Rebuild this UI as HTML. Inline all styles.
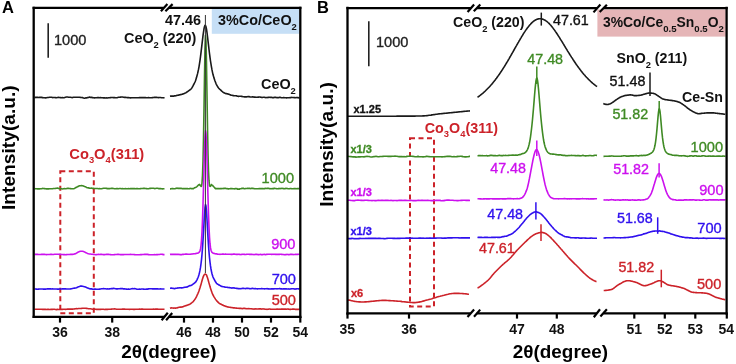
<!DOCTYPE html>
<html><head><meta charset="utf-8"><style>
html,body{margin:0;padding:0;background:#fff;}
body{width:736px;height:364px;overflow:hidden;font-family:"Liberation Sans",sans-serif;}
svg{display:block;will-change:transform;}
</style></head><body>
<svg width="736" height="364" viewBox="0 0 736 364" font-family="Liberation Sans, sans-serif">
<rect width="736" height="364" fill="#fff"/>
<!-- legend boxes -->
<rect x="211.8" y="9" width="87.6" height="24.8" fill="#c6dff6"/>
<rect x="597.4" y="9.5" width="128.3" height="27.1" fill="#e5b5b7"/>
<!-- dashed boxes -->
<rect x="60.3" y="171.3" width="33.5" height="142" fill="none" stroke="#cc2229" stroke-width="2" stroke-dasharray="5,3.5"/>
<rect x="410" y="138.2" width="24" height="168.2" fill="none" stroke="#cc2229" stroke-width="2" stroke-dasharray="5,3.5"/>
<path d="M34.5,97.6 L35.5,97.4 L36.5,97.4 L37.5,97.3 L38.5,97.5 L39.5,97.4 L40.5,97.3 L41.5,97.4 L42.5,97.6 L43.5,97.8 L44.5,97.8 L45.5,97.9 L46.5,97.8 L47.5,97.5 L48.5,97.5 L49.5,97.3 L50.5,97.3 L51.5,97.3 L52.5,97.6 L53.5,97.5 L54.5,97.5 L55.5,97.6 L56.5,97.7 L57.5,97.5 L58.5,97.4 L59.5,97.5 L60.5,97.6 L61.5,97.8 L62.5,97.6 L63.5,97.7 L64.5,97.6 L65.5,97.3 L66.5,97.0 L67.5,97.0 L68.5,97.2 L69.5,97.3 L70.5,97.3 L71.5,97.5 L72.5,97.6 L73.5,97.3 L74.5,97.2 L75.5,97.3 L76.5,97.2 L77.5,97.2 L78.5,97.2 L79.5,97.2 L80.5,97.4 L81.5,97.5 L82.5,97.6 L83.5,98.0 L84.5,98.2 L85.5,97.9 L86.5,97.9 L87.5,97.6 L88.5,97.5 L89.5,97.1 L90.5,97.4 L91.5,97.4 L92.5,97.6 L93.5,97.8 L94.5,97.9 L95.5,97.8 L96.5,97.7 L97.5,97.6 L98.5,97.5 L99.5,97.8 L100.5,97.6 L101.5,97.7 L102.5,97.8 L103.5,97.9 L104.5,97.8 L105.5,98.0 L106.5,97.9 L107.5,98.0 L108.5,97.7 L109.5,97.8 L110.5,97.6 L111.5,97.5 L112.5,97.5 L113.5,97.6 L114.5,97.5 L115.5,97.7 L116.5,97.7 L117.5,97.6 L118.5,97.3 L119.5,97.2 L120.5,97.1 L121.5,97.0 L122.5,97.0 L123.5,97.3 L124.5,97.4 L125.5,97.4 L126.5,97.5 L127.5,97.6 L128.5,97.5 L129.5,97.8 L130.5,97.9 L131.5,97.7 L132.5,97.7 L133.5,97.8 L134.5,97.7 L135.5,97.7 L136.5,97.7 L137.5,97.7 L138.5,97.7 L139.5,97.6 L140.5,97.5 L141.5,97.6 L142.5,97.6 L143.5,97.6 L144.5,97.5 L145.5,97.6 L146.5,97.7 L147.5,97.8 L148.5,97.6 L149.5,97.8 L150.5,97.7 L151.5,97.7 L152.5,97.6 L153.5,97.5 L154.5,97.3 L155.5,97.4 L156.5,97.4 L157.5,97.5 L158.5,97.6 L159.5,97.5 L160.5,97.5 L161.5,97.7 L162.5,97.7 L163.5,97.7 L164.5,97.9" fill="none" stroke="#1a1a1a" stroke-width="1.6" stroke-linejoin="round" />
<path d="M170.0,96.2 L170.5,96.1 L171.0,96.1 L171.5,96.0 L172.0,96.1 L172.5,96.1 L173.0,96.1 L173.5,96.1 L174.0,96.0 L174.5,95.9 L175.0,95.9 L175.5,95.7 L176.0,95.7 L176.5,95.5 L177.0,95.4 L177.5,95.3 L178.0,95.3 L178.5,95.1 L179.0,95.0 L179.5,94.9 L180.0,94.8 L180.5,94.6 L181.0,94.6 L181.5,94.4 L182.0,94.2 L182.5,94.1 L183.0,94.0 L183.5,93.7 L184.0,93.6 L184.5,93.4 L185.0,93.1 L185.5,92.9 L186.0,92.7 L186.5,92.3 L187.0,92.1 L187.5,91.7 L188.0,91.3 L188.5,90.9 L189.0,90.5 L189.5,90.2 L190.0,89.8 L190.5,89.5 L191.0,89.0 L191.5,88.4 L192.0,87.7 L192.5,86.8 L193.0,85.9 L193.5,84.9 L194.0,84.0 L194.5,83.0 L195.0,82.0 L195.5,80.7 L196.0,79.2 L196.5,77.6 L197.0,75.8 L197.5,73.9 L198.0,71.7 L198.5,69.4 L199.0,66.8 L199.5,63.7 L200.0,60.3 L200.5,56.7 L201.0,52.7 L201.5,48.4 L202.0,44.1 L202.5,39.8 L203.0,35.7 L203.5,32.0 L204.0,28.8 L204.5,26.6 L205.0,25.4 L205.5,25.5 L206.0,26.8 L206.5,29.2 L207.0,32.6 L207.5,36.5 L208.0,40.8 L208.5,45.1 L209.0,49.5 L209.5,53.5 L210.0,57.4 L210.5,61.0 L211.0,64.2 L211.5,67.1 L212.0,69.9 L212.5,72.3 L213.0,74.6 L213.5,76.3 L214.0,78.1 L214.5,79.6 L215.0,81.0 L215.5,82.2 L216.0,83.6 L216.5,84.6 L217.0,85.5 L217.5,86.5 L218.0,87.2 L218.5,87.9 L219.0,88.5 L219.5,89.1 L220.0,89.4 L220.5,89.8 L221.0,90.4 L221.5,90.9 L222.0,91.3 L222.5,91.8 L223.0,92.3 L223.5,92.5 L224.0,92.8 L224.5,93.1 L225.0,93.3 L225.5,93.5 L226.0,93.6 L226.5,93.6 L227.0,93.7 L227.5,93.9 L228.0,93.9 L228.5,94.2 L229.0,94.3 L229.5,94.6 L230.0,94.8 L230.5,94.9 L231.0,95.2 L231.5,95.3 L232.0,95.3 L232.5,95.4 L233.0,95.6 L233.5,95.5 L234.0,95.7 L234.5,95.7 L235.0,95.7 L235.5,95.7 L236.0,95.8 L236.5,95.9 L237.0,96.0 L237.5,96.2 L238.0,96.2 L238.5,96.4 L239.0,96.2 L239.5,96.2 L240.0,96.2 L240.5,96.3 L241.0,96.2 L241.5,96.4 L242.0,96.4 L242.5,96.6 L243.0,96.8 L243.5,96.8 L244.0,96.8 L244.5,96.9 L245.0,96.9 L245.5,96.9 L246.0,96.9 L246.5,96.9 L247.0,96.8 L247.5,96.7 L248.0,96.5 L248.5,96.6 L249.0,96.6 L249.5,96.8 L250.0,97.0 L250.5,97.0 L251.0,97.0 L251.5,97.0 L252.0,97.0 L252.5,96.9 L253.0,96.9 L253.5,97.0 L254.0,97.1 L254.5,97.0 L255.0,97.1 L255.5,97.3 L256.0,97.3 L256.5,97.3 L257.0,97.3 L257.5,97.2 L258.0,97.1 L258.5,97.1 L259.0,97.0 L259.5,97.0 L260.0,97.0 L260.5,97.3 L261.0,97.3 L261.5,97.4 L262.0,97.5 L262.5,97.5 L263.0,97.3 L263.5,97.3 L264.0,97.3 L264.5,97.2 L265.0,97.4 L265.5,97.6 L266.0,97.5 L266.5,97.5 L267.0,97.6 L267.5,97.5 L268.0,97.4 L268.5,97.4 L269.0,97.4 L269.5,97.3 L270.0,97.3 L270.5,97.4 L271.0,97.3 L271.5,97.4 L272.0,97.5 L272.5,97.6 L273.0,97.5 L273.5,97.7 L274.0,97.5 L274.5,97.4 L275.0,97.3 L275.5,97.4 L276.0,97.4 L276.5,97.6 L277.0,97.6 L277.5,97.6 L278.0,97.7 L278.5,97.6 L279.0,97.5 L279.5,97.4 L280.0,97.4 L280.5,97.4 L281.0,97.6 L281.5,97.7 L282.0,97.7 L282.5,97.7 L283.0,97.7 L283.5,97.6 L284.0,97.6 L284.5,97.7 L285.0,97.7 L285.5,97.8 L286.0,97.8 L286.5,97.9 L287.0,97.7 L287.5,97.8 L288.0,97.7 L288.5,97.7 L289.0,97.7 L289.5,97.7 L290.0,97.6 L290.5,97.6 L291.0,97.6 L291.5,97.4 L292.0,97.5 L292.5,97.5 L293.0,97.5 L293.5,97.5 L294.0,97.6 L294.5,97.6 L295.0,97.6 L295.5,97.7 L296.0,97.7 L296.5,97.5 L297.0,97.5 L297.5,97.6 L298.0,97.6 L298.5,97.8 L299.0,98.0 L299.5,98.0" fill="none" stroke="#1a1a1a" stroke-width="1.6" stroke-linejoin="round" />
<path d="M34.5,188.6 L35.5,188.7 L36.5,188.8 L37.5,188.9 L38.5,188.8 L39.5,188.9 L40.5,188.8 L41.5,188.7 L42.5,188.4 L43.5,188.5 L44.5,188.6 L45.5,188.8 L46.5,188.9 L47.5,188.9 L48.5,188.9 L49.5,188.7 L50.5,188.7 L51.5,188.7 L52.5,188.7 L53.5,188.5 L54.5,188.5 L55.5,188.4 L56.5,188.2 L57.5,188.1 L58.5,188.4 L59.5,188.6 L60.5,188.6 L61.5,188.8 L62.5,189.0 L63.5,188.8 L64.5,188.6 L65.5,188.7 L66.5,188.6 L67.5,188.3 L68.5,188.4 L69.5,188.5 L70.5,188.6 L71.5,188.7 L72.5,188.7 L73.5,188.7 L74.5,188.4 L75.5,187.8 L76.5,187.2 L77.5,186.8 L78.5,186.2 L79.5,185.7 L80.5,185.7 L81.5,185.6 L82.5,185.7 L83.5,186.0 L84.5,186.5 L85.5,186.8 L86.5,187.4 L87.5,187.8 L88.5,187.9 L89.5,188.1 L90.5,188.2 L91.5,188.1 L92.5,188.4 L93.5,188.4 L94.5,188.5 L95.5,188.5 L96.5,188.5 L97.5,188.5 L98.5,188.7 L99.5,188.6 L100.5,188.7 L101.5,188.7 L102.5,188.5 L103.5,188.3 L104.5,188.3 L105.5,188.3 L106.5,188.4 L107.5,188.6 L108.5,188.6 L109.5,188.6 L110.5,188.5 L111.5,188.4 L112.5,188.4 L113.5,188.5 L114.5,188.7 L115.5,188.7 L116.5,188.6 L117.5,188.6 L118.5,188.7 L119.5,188.5 L120.5,188.5 L121.5,188.8 L122.5,188.6 L123.5,188.7 L124.5,188.8 L125.5,188.6 L126.5,188.7 L127.5,188.8 L128.5,188.6 L129.5,188.7 L130.5,188.6 L131.5,188.6 L132.5,188.5 L133.5,188.6 L134.5,188.5 L135.5,188.7 L136.5,188.6 L137.5,188.6 L138.5,188.7 L139.5,188.7 L140.5,188.6 L141.5,188.5 L142.5,188.5 L143.5,188.3 L144.5,188.4 L145.5,188.5 L146.5,188.6 L147.5,188.8 L148.5,188.7 L149.5,188.4 L150.5,188.4 L151.5,188.3 L152.5,188.3 L153.5,188.3 L154.5,188.6 L155.5,188.5 L156.5,188.3 L157.5,188.3 L158.5,188.6 L159.5,188.6 L160.5,188.6 L161.5,188.8 L162.5,188.9 L163.5,188.8 L164.5,188.7" fill="none" stroke="#3f8a24" stroke-width="1.6" stroke-linejoin="round" />
<path d="M170.0,188.9 L170.5,188.9 L171.0,188.8 L171.5,188.8 L172.0,188.6 L172.5,188.5 L173.0,188.6 L173.5,188.7 L174.0,188.8 L174.5,188.8 L175.0,188.7 L175.5,188.5 L176.0,188.4 L176.5,188.2 L177.0,188.1 L177.5,188.2 L178.0,188.4 L178.5,188.4 L179.0,188.4 L179.5,188.4 L180.0,188.3 L180.5,188.4 L181.0,188.3 L181.5,188.4 L182.0,188.6 L182.5,188.7 L183.0,188.5 L183.5,188.7 L184.0,188.6 L184.5,188.6 L185.0,188.7 L185.5,188.6 L186.0,188.5 L186.5,188.6 L187.0,188.7 L187.5,188.6 L188.0,188.8 L188.5,188.8 L189.0,188.7 L189.5,188.6 L190.0,188.6 L190.5,188.4 L191.0,188.5 L191.5,188.6 L192.0,188.7 L192.5,188.5 L193.0,188.7 L193.5,188.6 L194.0,188.2 L194.5,187.7 L195.0,187.6 L195.5,187.4 L196.0,187.2 L196.5,186.9 L197.0,186.6 L197.5,186.0 L198.0,185.4 L198.5,185.0 L199.0,184.7 L199.5,184.4 L200.0,185.0 L200.5,185.7 L201.0,186.4 L201.5,186.2 L202.0,183.1 L202.5,175.5 L203.0,161.3 L203.5,138.7 L204.0,108.7 L204.5,75.9 L205.0,48.6 L205.5,35.6 L206.0,41.3 L206.5,63.8 L207.0,95.5 L207.5,127.4 L208.0,153.4 L208.5,170.8 L209.0,180.7 L209.5,185.7 L210.0,186.4 L210.5,186.3 L211.0,185.4 L211.5,184.5 L212.0,185.0 L212.5,185.4 L213.0,185.9 L213.5,186.5 L214.0,187.0 L214.5,187.6 L215.0,188.1 L215.5,188.7 L216.0,188.6 L216.5,188.6 L217.0,188.6 L217.5,188.6 L218.0,188.5 L218.5,188.6 L219.0,188.6 L219.5,188.7 L220.0,188.6 L220.5,188.6 L221.0,188.5 L221.5,188.6 L222.0,188.5 L222.5,188.5 L223.0,188.6 L223.5,188.5 L224.0,188.2 L224.5,188.3 L225.0,188.5 L225.5,188.4 L226.0,188.4 L226.5,188.6 L227.0,188.7 L227.5,188.6 L228.0,188.9 L228.5,189.0 L229.0,188.8 L229.5,188.8 L230.0,188.8 L230.5,188.6 L231.0,188.5 L231.5,188.6 L232.0,188.5 L232.5,188.7 L233.0,188.7 L233.5,188.8 L234.0,188.7 L234.5,188.9 L235.0,188.6 L235.5,188.6 L236.0,188.6 L236.5,188.7 L237.0,188.6 L237.5,189.1 L238.0,189.0 L238.5,189.1 L239.0,189.0 L239.5,189.1 L240.0,188.7 L240.5,188.8 L241.0,188.7 L241.5,188.5 L242.0,188.3 L242.5,188.4 L243.0,188.3 L243.5,188.3 L244.0,188.6 L244.5,188.7 L245.0,188.7 L245.5,188.5 L246.0,188.5 L246.5,188.5 L247.0,188.5 L247.5,188.4 L248.0,188.4 L248.5,188.5 L249.0,188.4 L249.5,188.4 L250.0,188.5 L250.5,188.6 L251.0,188.4 L251.5,188.4 L252.0,188.4 L252.5,188.4 L253.0,188.4 L253.5,188.5 L254.0,188.6 L254.5,188.7 L255.0,188.8 L255.5,188.7 L256.0,188.7 L256.5,188.7 L257.0,188.8 L257.5,188.7 L258.0,188.7 L258.5,188.7 L259.0,188.6 L259.5,188.6 L260.0,188.7 L260.5,188.6 L261.0,188.6 L261.5,188.7 L262.0,188.5 L262.5,188.6 L263.0,188.8 L263.5,188.7 L264.0,188.5 L264.5,188.7 L265.0,188.5 L265.5,188.4 L266.0,188.5 L266.5,188.5 L267.0,188.4 L267.5,188.3 L268.0,188.4 L268.5,188.4 L269.0,188.5 L269.5,188.6 L270.0,188.7 L270.5,188.7 L271.0,188.6 L271.5,188.7 L272.0,188.7 L272.5,188.6 L273.0,188.5 L273.5,188.7 L274.0,188.4 L274.5,188.3 L275.0,188.5 L275.5,188.5 L276.0,188.5 L276.5,188.7 L277.0,188.7 L277.5,188.8 L278.0,188.8 L278.5,188.6 L279.0,188.5 L279.5,188.6 L280.0,188.4 L280.5,188.6 L281.0,188.5 L281.5,188.5 L282.0,188.3 L282.5,188.5 L283.0,188.5 L283.5,188.6 L284.0,188.6 L284.5,188.7 L285.0,188.7 L285.5,188.5 L286.0,188.3 L286.5,188.5 L287.0,188.5 L287.5,188.5 L288.0,188.7 L288.5,188.8 L289.0,188.8 L289.5,188.7 L290.0,188.6 L290.5,188.5 L291.0,188.5 L291.5,188.7 L292.0,188.7 L292.5,188.8 L293.0,188.8 L293.5,188.8 L294.0,188.6 L294.5,188.6 L295.0,188.6 L295.5,188.7 L296.0,188.6 L296.5,188.7 L297.0,188.7 L297.5,188.6 L298.0,188.6 L298.5,188.6 L299.0,188.6 L299.5,188.5" fill="none" stroke="#3f8a24" stroke-width="1.6" stroke-linejoin="round" />
<path d="M34.5,254.4 L35.5,254.4 L36.5,254.4 L37.5,254.4 L38.5,254.5 L39.5,254.5 L40.5,254.5 L41.5,254.4 L42.5,254.4 L43.5,254.4 L44.5,254.3 L45.5,254.5 L46.5,254.6 L47.5,254.5 L48.5,254.5 L49.5,254.5 L50.5,254.4 L51.5,254.4 L52.5,254.5 L53.5,254.5 L54.5,254.3 L55.5,254.3 L56.5,254.3 L57.5,254.3 L58.5,254.2 L59.5,254.4 L60.5,254.4 L61.5,254.5 L62.5,254.5 L63.5,254.6 L64.5,254.5 L65.5,254.7 L66.5,254.6 L67.5,254.5 L68.5,254.5 L69.5,254.5 L70.5,254.4 L71.5,254.4 L72.5,254.4 L73.5,254.2 L74.5,253.9 L75.5,253.7 L76.5,253.1 L77.5,252.5 L78.5,251.9 L79.5,251.5 L80.5,251.2 L81.5,251.2 L82.5,251.3 L83.5,251.6 L84.5,251.9 L85.5,252.5 L86.5,252.9 L87.5,253.4 L88.5,253.8 L89.5,254.0 L90.5,254.0 L91.5,254.2 L92.5,254.3 L93.5,254.5 L94.5,254.5 L95.5,254.8 L96.5,254.6 L97.5,254.5 L98.5,254.4 L99.5,254.5 L100.5,254.4 L101.5,254.4 L102.5,254.5 L103.5,254.6 L104.5,254.6 L105.5,254.5 L106.5,254.4 L107.5,254.4 L108.5,254.4 L109.5,254.5 L110.5,254.6 L111.5,254.7 L112.5,254.7 L113.5,254.7 L114.5,254.6 L115.5,254.5 L116.5,254.5 L117.5,254.4 L118.5,254.4 L119.5,254.5 L120.5,254.6 L121.5,254.5 L122.5,254.6 L123.5,254.6 L124.5,254.5 L125.5,254.5 L126.5,254.5 L127.5,254.5 L128.5,254.5 L129.5,254.5 L130.5,254.4 L131.5,254.5 L132.5,254.5 L133.5,254.5 L134.5,254.6 L135.5,254.7 L136.5,254.7 L137.5,254.7 L138.5,254.7 L139.5,254.7 L140.5,254.6 L141.5,254.6 L142.5,254.5 L143.5,254.5 L144.5,254.4 L145.5,254.4 L146.5,254.4 L147.5,254.4 L148.5,254.6 L149.5,254.8 L150.5,254.7 L151.5,254.7 L152.5,254.7 L153.5,254.7 L154.5,254.6 L155.5,254.7 L156.5,254.6 L157.5,254.6 L158.5,254.5 L159.5,254.5 L160.5,254.3 L161.5,254.3 L162.5,254.4 L163.5,254.6 L164.5,254.6" fill="none" stroke="#cc11ee" stroke-width="1.6" stroke-linejoin="round" />
<path d="M170.0,254.4 L170.5,254.3 L171.0,254.4 L171.5,254.3 L172.0,254.4 L172.5,254.3 L173.0,254.4 L173.5,254.4 L174.0,254.4 L174.5,254.4 L175.0,254.4 L175.5,254.4 L176.0,254.4 L176.5,254.4 L177.0,254.5 L177.5,254.4 L178.0,254.4 L178.5,254.5 L179.0,254.4 L179.5,254.5 L180.0,254.6 L180.5,254.6 L181.0,254.6 L181.5,254.7 L182.0,254.5 L182.5,254.4 L183.0,254.4 L183.5,254.4 L184.0,254.3 L184.5,254.3 L185.0,254.2 L185.5,254.1 L186.0,254.1 L186.5,254.1 L187.0,254.1 L187.5,254.2 L188.0,254.2 L188.5,254.3 L189.0,254.3 L189.5,254.2 L190.0,254.2 L190.5,254.2 L191.0,254.1 L191.5,254.0 L192.0,254.0 L192.5,254.0 L193.0,253.9 L193.5,253.8 L194.0,253.8 L194.5,253.7 L195.0,253.7 L195.5,253.6 L196.0,253.5 L196.5,253.4 L197.0,253.3 L197.5,253.2 L198.0,253.0 L198.5,252.9 L199.0,252.5 L199.5,251.8 L200.0,250.8 L200.5,248.9 L201.0,245.5 L201.5,240.1 L202.0,231.8 L202.5,219.9 L203.0,204.5 L203.5,186.4 L204.0,167.1 L204.5,149.5 L205.0,136.5 L205.5,130.7 L206.0,133.4 L206.5,144.0 L207.0,160.1 L207.5,179.0 L208.0,197.6 L208.5,214.2 L209.0,227.4 L209.5,237.1 L210.0,243.7 L210.5,247.7 L211.0,250.2 L211.5,251.4 L212.0,252.3 L212.5,252.7 L213.0,253.0 L213.5,253.2 L214.0,253.4 L214.5,253.5 L215.0,253.7 L215.5,253.7 L216.0,253.9 L216.5,253.9 L217.0,254.0 L217.5,254.1 L218.0,254.2 L218.5,254.3 L219.0,254.2 L219.5,254.3 L220.0,254.4 L220.5,254.3 L221.0,254.2 L221.5,254.2 L222.0,254.2 L222.5,254.0 L223.0,254.2 L223.5,254.1 L224.0,254.2 L224.5,254.2 L225.0,254.3 L225.5,254.1 L226.0,254.3 L226.5,254.3 L227.0,254.2 L227.5,254.2 L228.0,254.3 L228.5,254.2 L229.0,254.3 L229.5,254.3 L230.0,254.3 L230.5,254.3 L231.0,254.4 L231.5,254.3 L232.0,254.4 L232.5,254.2 L233.0,254.2 L233.5,254.0 L234.0,254.2 L234.5,254.1 L235.0,254.2 L235.5,254.3 L236.0,254.4 L236.5,254.4 L237.0,254.4 L237.5,254.4 L238.0,254.3 L238.5,254.3 L239.0,254.4 L239.5,254.4 L240.0,254.5 L240.5,254.5 L241.0,254.6 L241.5,254.4 L242.0,254.4 L242.5,254.3 L243.0,254.3 L243.5,254.3 L244.0,254.4 L244.5,254.3 L245.0,254.5 L245.5,254.5 L246.0,254.5 L246.5,254.3 L247.0,254.3 L247.5,254.2 L248.0,254.3 L248.5,254.2 L249.0,254.3 L249.5,254.4 L250.0,254.4 L250.5,254.3 L251.0,254.4 L251.5,254.4 L252.0,254.4 L252.5,254.5 L253.0,254.5 L253.5,254.5 L254.0,254.6 L254.5,254.5 L255.0,254.5 L255.5,254.4 L256.0,254.4 L256.5,254.3 L257.0,254.4 L257.5,254.5 L258.0,254.6 L258.5,254.5 L259.0,254.6 L259.5,254.5 L260.0,254.5 L260.5,254.4 L261.0,254.5 L261.5,254.7 L262.0,254.6 L262.5,254.6 L263.0,254.5 L263.5,254.5 L264.0,254.4 L264.5,254.4 L265.0,254.5 L265.5,254.6 L266.0,254.5 L266.5,254.4 L267.0,254.4 L267.5,254.3 L268.0,254.3 L268.5,254.3 L269.0,254.3 L269.5,254.2 L270.0,254.3 L270.5,254.3 L271.0,254.3 L271.5,254.4 L272.0,254.4 L272.5,254.3 L273.0,254.3 L273.5,254.3 L274.0,254.4 L274.5,254.3 L275.0,254.3 L275.5,254.4 L276.0,254.4 L276.5,254.4 L277.0,254.5 L277.5,254.4 L278.0,254.5 L278.5,254.4 L279.0,254.4 L279.5,254.4 L280.0,254.3 L280.5,254.3 L281.0,254.3 L281.5,254.4 L282.0,254.4 L282.5,254.5 L283.0,254.5 L283.5,254.5 L284.0,254.6 L284.5,254.8 L285.0,254.7 L285.5,254.6 L286.0,254.6 L286.5,254.5 L287.0,254.4 L287.5,254.5 L288.0,254.5 L288.5,254.6 L289.0,254.6 L289.5,254.6 L290.0,254.4 L290.5,254.4 L291.0,254.4 L291.5,254.4 L292.0,254.4 L292.5,254.4 L293.0,254.6 L293.5,254.5 L294.0,254.5 L294.5,254.5 L295.0,254.5 L295.5,254.4 L296.0,254.4 L296.5,254.5 L297.0,254.4 L297.5,254.4 L298.0,254.4 L298.5,254.3 L299.0,254.2 L299.5,254.3" fill="none" stroke="#cc11ee" stroke-width="1.6" stroke-linejoin="round" />
<path d="M34.5,288.9 L35.5,289.0 L36.5,289.1 L37.5,289.2 L38.5,289.1 L39.5,289.0 L40.5,289.0 L41.5,289.0 L42.5,289.0 L43.5,289.1 L44.5,289.1 L45.5,289.1 L46.5,289.0 L47.5,288.9 L48.5,288.8 L49.5,288.9 L50.5,288.8 L51.5,289.0 L52.5,288.9 L53.5,289.0 L54.5,289.0 L55.5,289.0 L56.5,289.0 L57.5,289.1 L58.5,289.1 L59.5,289.0 L60.5,289.0 L61.5,289.0 L62.5,288.9 L63.5,288.9 L64.5,288.9 L65.5,288.8 L66.5,289.0 L67.5,289.0 L68.5,289.0 L69.5,289.0 L70.5,288.9 L71.5,288.7 L72.5,288.5 L73.5,288.3 L74.5,288.1 L75.5,288.0 L76.5,287.7 L77.5,287.2 L78.5,286.8 L79.5,286.5 L80.5,286.1 L81.5,286.1 L82.5,286.3 L83.5,286.5 L84.5,286.7 L85.5,287.1 L86.5,287.5 L87.5,287.9 L88.5,288.3 L89.5,288.7 L90.5,288.9 L91.5,288.9 L92.5,289.1 L93.5,289.2 L94.5,289.1 L95.5,289.1 L96.5,289.2 L97.5,289.3 L98.5,289.2 L99.5,289.1 L100.5,289.0 L101.5,288.8 L102.5,288.7 L103.5,288.6 L104.5,288.8 L105.5,288.8 L106.5,289.0 L107.5,288.9 L108.5,289.0 L109.5,288.9 L110.5,288.8 L111.5,288.6 L112.5,288.6 L113.5,288.4 L114.5,288.5 L115.5,288.7 L116.5,288.9 L117.5,288.9 L118.5,288.8 L119.5,288.8 L120.5,288.6 L121.5,288.5 L122.5,288.6 L123.5,288.9 L124.5,288.8 L125.5,289.0 L126.5,289.1 L127.5,289.2 L128.5,288.9 L129.5,289.2 L130.5,289.0 L131.5,288.7 L132.5,288.6 L133.5,288.7 L134.5,288.6 L135.5,288.8 L136.5,289.1 L137.5,289.2 L138.5,289.2 L139.5,289.1 L140.5,289.2 L141.5,289.0 L142.5,289.0 L143.5,289.1 L144.5,289.3 L145.5,289.2 L146.5,289.1 L147.5,289.1 L148.5,288.9 L149.5,288.8 L150.5,288.7 L151.5,288.8 L152.5,288.9 L153.5,288.9 L154.5,288.9 L155.5,288.9 L156.5,288.9 L157.5,288.8 L158.5,289.0 L159.5,289.0 L160.5,288.9 L161.5,289.0 L162.5,289.0 L163.5,289.0 L164.5,289.0" fill="none" stroke="#2f10ee" stroke-width="1.6" stroke-linejoin="round" />
<path d="M170.0,288.2 L170.5,288.2 L171.0,288.1 L171.5,288.1 L172.0,288.2 L172.5,288.3 L173.0,288.4 L173.5,288.4 L174.0,288.6 L174.5,288.6 L175.0,288.5 L175.5,288.4 L176.0,288.3 L176.5,288.2 L177.0,288.2 L177.5,288.0 L178.0,287.9 L178.5,288.0 L179.0,288.0 L179.5,287.8 L180.0,287.8 L180.5,287.8 L181.0,287.9 L181.5,287.8 L182.0,287.9 L182.5,287.8 L183.0,287.7 L183.5,287.5 L184.0,287.5 L184.5,287.3 L185.0,287.2 L185.5,287.2 L186.0,287.1 L186.5,287.1 L187.0,286.9 L187.5,286.9 L188.0,286.5 L188.5,286.2 L189.0,286.0 L189.5,285.8 L190.0,285.6 L190.5,285.6 L191.0,285.4 L191.5,285.2 L192.0,285.0 L192.5,284.6 L193.0,284.2 L193.5,283.8 L194.0,283.5 L194.5,283.1 L195.0,282.7 L195.5,282.1 L196.0,281.6 L196.5,280.7 L197.0,279.8 L197.5,278.7 L198.0,277.5 L198.5,276.2 L199.0,274.5 L199.5,272.6 L200.0,270.2 L200.5,267.4 L201.0,263.8 L201.5,259.6 L202.0,254.4 L202.5,248.1 L203.0,240.7 L203.5,232.2 L204.0,223.1 L204.5,214.5 L205.0,207.7 L205.5,204.5 L206.0,206.0 L206.5,211.6 L207.0,219.7 L207.5,228.8 L208.0,237.6 L208.5,245.4 L209.0,252.1 L209.5,257.6 L210.0,262.1 L210.5,265.9 L211.0,269.0 L211.5,271.6 L212.0,273.7 L212.5,275.6 L213.0,277.0 L213.5,278.2 L214.0,279.0 L214.5,280.0 L215.0,280.9 L215.5,281.8 L216.0,282.5 L216.5,283.2 L217.0,283.8 L217.5,284.1 L218.0,284.2 L218.5,284.7 L219.0,285.0 L219.5,285.1 L220.0,285.5 L220.5,285.9 L221.0,286.0 L221.5,286.4 L222.0,286.5 L222.5,286.5 L223.0,286.7 L223.5,286.8 L224.0,286.8 L224.5,287.0 L225.0,287.1 L225.5,287.2 L226.0,287.2 L226.5,287.2 L227.0,287.3 L227.5,287.4 L228.0,287.5 L228.5,287.5 L229.0,287.6 L229.5,287.6 L230.0,287.8 L230.5,287.8 L231.0,287.9 L231.5,288.0 L232.0,288.1 L232.5,287.9 L233.0,287.9 L233.5,288.0 L234.0,287.9 L234.5,288.0 L235.0,288.2 L235.5,288.3 L236.0,288.3 L236.5,288.4 L237.0,288.3 L237.5,288.5 L238.0,288.6 L238.5,288.6 L239.0,288.7 L239.5,288.8 L240.0,288.6 L240.5,288.7 L241.0,288.7 L241.5,288.5 L242.0,288.5 L242.5,288.4 L243.0,288.4 L243.5,288.3 L244.0,288.5 L244.5,288.5 L245.0,288.5 L245.5,288.6 L246.0,288.5 L246.5,288.4 L247.0,288.3 L247.5,288.4 L248.0,288.3 L248.5,288.5 L249.0,288.5 L249.5,288.6 L250.0,288.7 L250.5,288.7 L251.0,288.6 L251.5,288.6 L252.0,288.4 L252.5,288.4 L253.0,288.5 L253.5,288.5 L254.0,288.7 L254.5,288.8 L255.0,288.6 L255.5,288.6 L256.0,288.8 L256.5,288.7 L257.0,288.7 L257.5,288.9 L258.0,288.8 L258.5,288.7 L259.0,288.8 L259.5,288.8 L260.0,288.7 L260.5,288.7 L261.0,288.8 L261.5,288.6 L262.0,288.6 L262.5,288.7 L263.0,288.8 L263.5,288.7 L264.0,288.8 L264.5,288.9 L265.0,288.8 L265.5,288.8 L266.0,288.8 L266.5,288.7 L267.0,288.6 L267.5,288.8 L268.0,288.9 L268.5,288.8 L269.0,288.9 L269.5,289.0 L270.0,289.0 L270.5,289.0 L271.0,288.9 L271.5,288.8 L272.0,288.9 L272.5,288.9 L273.0,288.8 L273.5,288.9 L274.0,288.9 L274.5,288.8 L275.0,288.7 L275.5,288.7 L276.0,288.8 L276.5,288.8 L277.0,288.9 L277.5,288.8 L278.0,288.8 L278.5,288.7 L279.0,288.7 L279.5,288.5 L280.0,288.6 L280.5,288.9 L281.0,288.9 L281.5,288.9 L282.0,289.0 L282.5,289.0 L283.0,288.9 L283.5,288.9 L284.0,289.0 L284.5,288.9 L285.0,288.9 L285.5,288.9 L286.0,289.0 L286.5,288.9 L287.0,289.0 L287.5,289.0 L288.0,289.0 L288.5,288.9 L289.0,289.1 L289.5,289.0 L290.0,289.0 L290.5,289.0 L291.0,288.9 L291.5,288.8 L292.0,288.7 L292.5,288.7 L293.0,288.7 L293.5,288.8 L294.0,288.9 L294.5,289.0 L295.0,289.1 L295.5,289.0 L296.0,288.9 L296.5,288.9 L297.0,288.8 L297.5,288.8 L298.0,288.8 L298.5,288.9 L299.0,288.9 L299.5,289.0" fill="none" stroke="#2f10ee" stroke-width="1.6" stroke-linejoin="round" />
<path d="M34.5,309.2 L35.5,309.3 L36.5,309.3 L37.5,309.2 L38.5,309.2 L39.5,309.3 L40.5,309.3 L41.5,309.3 L42.5,309.4 L43.5,309.4 L44.5,309.4 L45.5,309.4 L46.5,309.5 L47.5,309.4 L48.5,309.4 L49.5,309.5 L50.5,309.4 L51.5,309.2 L52.5,309.4 L53.5,309.3 L54.5,309.3 L55.5,309.5 L56.5,309.6 L57.5,309.4 L58.5,309.5 L59.5,309.4 L60.5,309.2 L61.5,309.4 L62.5,309.4 L63.5,309.3 L64.5,309.3 L65.5,309.4 L66.5,309.2 L67.5,309.1 L68.5,309.0 L69.5,309.1 L70.5,309.1 L71.5,309.0 L72.5,309.1 L73.5,309.0 L74.5,308.9 L75.5,308.7 L76.5,308.6 L77.5,308.7 L78.5,308.5 L79.5,308.5 L80.5,308.5 L81.5,308.4 L82.5,308.2 L83.5,308.3 L84.5,308.2 L85.5,308.3 L86.5,308.4 L87.5,308.5 L88.5,308.7 L89.5,308.8 L90.5,308.8 L91.5,309.0 L92.5,309.2 L93.5,309.2 L94.5,309.1 L95.5,309.3 L96.5,309.4 L97.5,309.4 L98.5,309.4 L99.5,309.4 L100.5,309.4 L101.5,309.2 L102.5,309.2 L103.5,309.3 L104.5,309.5 L105.5,309.4 L106.5,309.4 L107.5,309.4 L108.5,309.3 L109.5,309.2 L110.5,309.2 L111.5,309.1 L112.5,309.0 L113.5,309.0 L114.5,308.9 L115.5,309.0 L116.5,309.2 L117.5,309.2 L118.5,309.2 L119.5,309.2 L120.5,309.2 L121.5,309.2 L122.5,309.1 L123.5,309.1 L124.5,309.1 L125.5,309.2 L126.5,309.2 L127.5,309.2 L128.5,309.2 L129.5,309.4 L130.5,309.3 L131.5,309.3 L132.5,309.3 L133.5,309.4 L134.5,309.4 L135.5,309.3 L136.5,309.3 L137.5,309.3 L138.5,309.2 L139.5,309.1 L140.5,309.3 L141.5,309.1 L142.5,309.1 L143.5,309.2 L144.5,309.2 L145.5,309.2 L146.5,309.3 L147.5,309.3 L148.5,309.2 L149.5,309.3 L150.5,309.2 L151.5,309.3 L152.5,309.2 L153.5,309.1 L154.5,309.2 L155.5,309.1 L156.5,309.0 L157.5,309.1 L158.5,309.2 L159.5,309.2 L160.5,309.2 L161.5,309.2 L162.5,309.3 L163.5,309.2 L164.5,309.2" fill="none" stroke="#cc2229" stroke-width="1.6" stroke-linejoin="round" />
<path d="M170.0,308.3 L170.5,308.1 L171.0,308.0 L171.5,307.9 L172.0,308.0 L172.5,308.0 L173.0,308.0 L173.5,308.1 L174.0,308.0 L174.5,308.0 L175.0,308.1 L175.5,308.1 L176.0,308.0 L176.5,308.0 L177.0,307.9 L177.5,307.7 L178.0,307.5 L178.5,307.5 L179.0,307.3 L179.5,307.2 L180.0,307.1 L180.5,307.1 L181.0,307.0 L181.5,307.1 L182.0,306.9 L182.5,306.9 L183.0,306.8 L183.5,306.6 L184.0,306.3 L184.5,306.1 L185.0,305.9 L185.5,305.7 L186.0,305.6 L186.5,305.5 L187.0,305.2 L187.5,305.1 L188.0,304.9 L188.5,304.8 L189.0,304.6 L189.5,304.4 L190.0,304.1 L190.5,303.8 L191.0,303.4 L191.5,302.9 L192.0,302.6 L192.5,302.2 L193.0,301.8 L193.5,301.2 L194.0,300.6 L194.5,299.9 L195.0,299.2 L195.5,298.3 L196.0,297.5 L196.5,296.6 L197.0,295.5 L197.5,294.4 L198.0,293.3 L198.5,292.1 L199.0,290.8 L199.5,289.3 L200.0,287.8 L200.5,286.1 L201.0,284.4 L201.5,282.6 L202.0,280.8 L202.5,279.0 L203.0,277.4 L203.5,276.1 L204.0,275.1 L204.5,274.4 L205.0,274.1 L205.5,274.1 L206.0,274.5 L206.5,275.1 L207.0,276.4 L207.5,277.8 L208.0,279.4 L208.5,281.3 L209.0,283.1 L209.5,284.8 L210.0,286.6 L210.5,288.2 L211.0,289.7 L211.5,291.2 L212.0,292.6 L212.5,293.9 L213.0,295.0 L213.5,295.9 L214.0,296.9 L214.5,297.6 L215.0,298.4 L215.5,299.2 L216.0,299.9 L216.5,300.6 L217.0,301.2 L217.5,301.6 L218.0,302.1 L218.5,302.6 L219.0,303.1 L219.5,303.4 L220.0,303.8 L220.5,304.1 L221.0,304.3 L221.5,304.4 L222.0,304.8 L222.5,305.0 L223.0,305.3 L223.5,305.4 L224.0,305.8 L224.5,305.9 L225.0,306.0 L225.5,306.2 L226.0,306.4 L226.5,306.5 L227.0,306.7 L227.5,306.9 L228.0,307.0 L228.5,307.0 L229.0,307.2 L229.5,307.3 L230.0,307.2 L230.5,307.4 L231.0,307.5 L231.5,307.5 L232.0,307.6 L232.5,307.8 L233.0,307.8 L233.5,307.9 L234.0,308.0 L234.5,307.9 L235.0,308.0 L235.5,308.0 L236.0,308.1 L236.5,308.1 L237.0,308.2 L237.5,308.2 L238.0,308.3 L238.5,308.3 L239.0,308.4 L239.5,308.3 L240.0,308.4 L240.5,308.4 L241.0,308.4 L241.5,308.5 L242.0,308.6 L242.5,308.6 L243.0,308.5 L243.5,308.4 L244.0,308.4 L244.5,308.4 L245.0,308.4 L245.5,308.6 L246.0,308.6 L246.5,308.7 L247.0,308.7 L247.5,308.7 L248.0,308.6 L248.5,308.7 L249.0,308.6 L249.5,308.7 L250.0,308.7 L250.5,308.8 L251.0,308.8 L251.5,308.8 L252.0,308.9 L252.5,309.0 L253.0,309.0 L253.5,309.0 L254.0,309.1 L254.5,309.0 L255.0,308.9 L255.5,309.0 L256.0,308.9 L256.5,309.0 L257.0,309.0 L257.5,309.0 L258.0,309.0 L258.5,309.0 L259.0,308.8 L259.5,308.9 L260.0,308.9 L260.5,308.9 L261.0,308.9 L261.5,309.1 L262.0,309.0 L262.5,309.0 L263.0,308.9 L263.5,309.0 L264.0,309.0 L264.5,309.0 L265.0,309.2 L265.5,309.2 L266.0,309.2 L266.5,309.3 L267.0,309.4 L267.5,309.3 L268.0,309.2 L268.5,309.2 L269.0,309.0 L269.5,309.0 L270.0,309.0 L270.5,309.2 L271.0,309.2 L271.5,309.2 L272.0,309.3 L272.5,309.3 L273.0,309.2 L273.5,309.3 L274.0,309.2 L274.5,309.3 L275.0,309.3 L275.5,309.2 L276.0,309.2 L276.5,309.3 L277.0,309.0 L277.5,309.1 L278.0,309.2 L278.5,309.2 L279.0,309.1 L279.5,309.3 L280.0,309.3 L280.5,309.2 L281.0,309.1 L281.5,309.1 L282.0,309.0 L282.5,309.1 L283.0,309.1 L283.5,309.1 L284.0,309.2 L284.5,309.1 L285.0,309.1 L285.5,309.1 L286.0,309.3 L286.5,309.2 L287.0,309.1 L287.5,309.0 L288.0,309.0 L288.5,309.1 L289.0,309.2 L289.5,309.2 L290.0,309.4 L290.5,309.4 L291.0,309.3 L291.5,309.3 L292.0,309.2 L292.5,309.1 L293.0,309.1 L293.5,309.1 L294.0,309.1 L294.5,309.3 L295.0,309.3 L295.5,309.4 L296.0,309.4 L296.5,309.4 L297.0,309.3 L297.5,309.5 L298.0,309.4 L298.5,309.4 L299.0,309.3 L299.5,309.3" fill="none" stroke="#cc2229" stroke-width="1.6" stroke-linejoin="round" />
<path d="M348.0,116.3 L349.0,116.3 L350.0,116.3 L351.0,116.3 L352.0,116.3 L353.0,116.3 L354.0,116.3 L355.0,116.3 L356.0,116.3 L357.0,116.3 L358.0,116.3 L359.0,116.3 L360.0,116.3 L361.0,116.3 L362.0,116.3 L363.0,116.3 L364.0,116.3 L365.0,116.3 L366.0,116.2 L367.0,116.2 L368.0,116.2 L369.0,116.2 L370.0,116.2 L371.0,116.2 L372.0,116.2 L373.0,116.2 L374.0,116.2 L375.0,116.2 L376.0,116.2 L377.0,116.2 L378.0,116.2 L379.0,116.2 L380.0,116.2 L381.0,116.2 L382.0,116.2 L383.0,116.2 L384.0,116.2 L385.0,116.2 L386.0,116.2 L387.0,116.2 L388.0,116.2 L389.0,116.2 L390.0,116.2 L391.0,116.2 L392.0,116.2 L393.0,116.2 L394.0,116.2 L395.0,116.2 L396.0,116.2 L397.0,116.1 L398.0,116.1 L399.0,116.1 L400.0,116.1 L401.0,116.1 L402.0,116.1 L403.0,116.1 L404.0,116.1 L405.0,116.1 L406.0,116.1 L407.0,116.1 L408.0,116.1 L409.0,116.1 L410.0,116.1 L411.0,116.1 L412.0,116.1 L413.0,116.1 L414.0,116.1 L415.0,116.1 L416.0,116.0 L417.0,116.0 L418.0,116.0 L419.0,116.0 L420.0,116.0 L421.0,116.0 L422.0,116.0 L423.0,115.9 L424.0,115.9 L425.0,115.8 L426.0,115.7 L427.0,115.6 L428.0,115.5 L429.0,115.3 L430.0,115.2 L431.0,115.1 L432.0,114.9 L433.0,114.8 L434.0,114.6 L435.0,114.5 L436.0,114.3 L437.0,114.2 L438.0,114.0 L439.0,113.9 L440.0,113.8 L441.0,113.7 L442.0,113.6 L443.0,113.5 L444.0,113.4 L445.0,113.3 L446.0,113.2 L447.0,113.1 L448.0,113.0 L449.0,112.9 L450.0,112.8 L451.0,112.7 L452.0,112.6 L453.0,112.5 L454.0,112.4 L455.0,112.3 L456.0,112.2 L457.0,112.1 L458.0,112.0 L459.0,111.9 L460.0,111.8 L461.0,111.7 L462.0,111.6 L463.0,111.5 L464.0,111.4 L465.0,111.3 L466.0,111.2 L467.0,111.1 L468.0,111.0 L469.0,111.0 L470.0,110.9" fill="none" stroke="#1a1a1a" stroke-width="1.6" stroke-linejoin="round" />
<path d="M477.5,97.3 L478.0,97.0 L478.5,96.6 L479.0,96.3 L479.5,95.9 L480.0,95.5 L480.5,95.1 L481.0,94.7 L481.5,94.3 L482.0,93.9 L482.5,93.5 L483.0,93.1 L483.5,92.6 L484.0,92.2 L484.5,91.7 L485.0,91.3 L485.5,90.8 L486.0,90.3 L486.5,89.8 L487.0,89.3 L487.5,88.8 L488.0,88.3 L488.5,87.8 L489.0,87.3 L489.5,86.7 L490.0,86.2 L490.5,85.6 L491.0,85.0 L491.5,84.5 L492.0,83.9 L492.5,83.3 L493.0,82.7 L493.5,82.1 L494.0,81.4 L494.5,80.8 L495.0,80.2 L495.5,79.5 L496.0,78.8 L496.5,78.2 L497.0,77.5 L497.5,76.8 L498.0,76.1 L498.5,75.4 L499.0,74.7 L499.5,74.0 L500.0,73.2 L500.5,72.5 L501.0,71.7 L501.5,71.0 L502.0,70.2 L502.5,69.5 L503.0,68.7 L503.5,67.9 L504.0,67.1 L504.5,66.3 L505.0,65.5 L505.5,64.7 L506.0,63.8 L506.5,63.0 L507.0,62.2 L507.5,61.3 L508.0,60.5 L508.5,59.6 L509.0,58.8 L509.5,57.9 L510.0,57.0 L510.5,56.2 L511.0,55.3 L511.5,54.4 L512.0,53.5 L512.5,52.7 L513.0,51.8 L513.5,50.9 L514.0,50.0 L514.5,49.1 L515.0,48.2 L515.5,47.3 L516.0,46.4 L516.5,45.6 L517.0,44.7 L517.5,43.8 L518.0,42.9 L518.5,42.1 L519.0,41.2 L519.5,40.3 L520.0,39.5 L520.5,38.6 L521.0,37.8 L521.5,36.9 L522.0,36.1 L522.5,35.3 L523.0,34.5 L523.5,33.7 L524.0,32.9 L524.5,32.1 L525.0,31.4 L525.5,30.6 L526.0,29.9 L526.5,29.2 L527.0,28.5 L527.5,27.8 L528.0,27.2 L528.5,26.5 L529.0,25.9 L529.5,25.3 L530.0,24.7 L530.5,24.2 L531.0,23.6 L531.5,23.1 L532.0,22.6 L532.5,22.2 L533.0,21.7 L533.5,21.3 L534.0,21.0 L534.5,20.6 L535.0,20.3 L535.5,20.0 L536.0,19.7 L536.5,19.5 L537.0,19.3 L537.5,19.1 L538.0,19.0 L538.5,18.9 L539.0,18.8 L539.5,18.7 L540.0,18.7 L540.5,18.7 L541.0,18.8 L541.5,18.9 L542.0,19.0 L542.5,19.1 L543.0,19.3 L543.5,19.5 L544.0,19.7 L544.5,19.9 L545.0,20.2 L545.5,20.5 L546.0,20.9 L546.5,21.2 L547.0,21.6 L547.5,22.0 L548.0,22.5 L548.5,22.9 L549.0,23.4 L549.5,23.9 L550.0,24.5 L550.5,25.0 L551.0,25.6 L551.5,26.2 L552.0,26.8 L552.5,27.4 L553.0,28.1 L553.5,28.8 L554.0,29.4 L554.5,30.1 L555.0,30.8 L555.5,31.6 L556.0,32.3 L556.5,33.0 L557.0,33.8 L557.5,34.5 L558.0,35.3 L558.5,36.1 L559.0,36.9 L559.5,37.7 L560.0,38.5 L560.5,39.3 L561.0,40.1 L561.5,40.9 L562.0,41.7 L562.5,42.5 L563.0,43.4 L563.5,44.2 L564.0,45.0 L564.5,45.8 L565.0,46.6 L565.5,47.5 L566.0,48.3 L566.5,49.1 L567.0,49.9 L567.5,50.8 L568.0,51.6 L568.5,52.4 L569.0,53.2 L569.5,54.0 L570.0,54.8 L570.5,55.6 L571.0,56.4 L571.5,57.2 L572.0,57.9 L572.5,58.7 L573.0,59.5 L573.5,60.2 L574.0,61.0 L574.5,61.8 L575.0,62.5 L575.5,63.2 L576.0,64.0 L576.5,64.7 L577.0,65.4 L577.5,66.1 L578.0,66.8 L578.5,67.5 L579.0,68.1 L579.5,68.8 L580.0,69.5 L580.5,70.1 L581.0,70.8 L581.5,71.4 L582.0,72.0 L582.5,72.7 L583.0,73.3 L583.5,73.9 L584.0,74.5 L584.5,75.0 L585.0,75.6 L585.5,76.2 L586.0,76.7 L586.5,77.3 L587.0,77.8 L587.5,78.3 L588.0,78.8 L588.5,79.4 L589.0,79.8 L589.5,80.3 L590.0,80.8 L590.5,81.3 L591.0,81.7 L591.5,82.2 L592.0,82.6 L592.5,83.1 L593.0,83.5 L593.5,83.9 L594.0,84.3 L594.5,84.7 L595.0,85.1 L595.5,85.5 L596.0,85.9 L596.5,86.2 L597.0,86.6" fill="none" stroke="#1a1a1a" stroke-width="1.6" stroke-linejoin="round" />
<path d="M603.3,103.6 L603.8,103.8 L604.3,104.0 L604.8,104.1 L605.3,104.3 L605.8,104.4 L606.3,104.4 L606.8,104.5 L607.3,104.5 L607.8,104.5 L608.3,104.4 L608.8,104.3 L609.3,104.1 L609.8,103.9 L610.3,103.7 L610.8,103.4 L611.3,103.2 L611.8,102.9 L612.3,102.6 L612.8,102.3 L613.3,102.0 L613.8,101.6 L614.3,101.2 L614.8,100.8 L615.3,100.4 L615.8,100.0 L616.3,99.7 L616.8,99.4 L617.3,99.0 L617.8,98.7 L618.3,98.4 L618.8,98.1 L619.3,97.8 L619.8,97.5 L620.3,97.2 L620.8,97.0 L621.3,96.8 L621.8,96.6 L622.3,96.4 L622.8,96.2 L623.3,96.1 L623.8,95.9 L624.3,95.8 L624.8,95.6 L625.3,95.5 L625.8,95.4 L626.3,95.4 L626.8,95.3 L627.3,95.2 L627.8,95.1 L628.3,95.1 L628.8,95.0 L629.3,95.0 L629.8,94.9 L630.3,94.9 L630.8,94.9 L631.3,95.0 L631.8,95.0 L632.3,95.1 L632.8,95.3 L633.3,95.4 L633.8,95.5 L634.3,95.6 L634.8,95.6 L635.3,95.6 L635.8,95.6 L636.3,95.6 L636.8,95.6 L637.3,95.5 L637.8,95.5 L638.3,95.5 L638.8,95.4 L639.3,95.4 L639.8,95.3 L640.3,95.3 L640.8,95.2 L641.3,95.0 L641.8,94.9 L642.3,94.7 L642.8,94.6 L643.3,94.4 L643.8,94.3 L644.3,94.2 L644.8,94.0 L645.3,93.9 L645.8,93.8 L646.3,93.6 L646.8,93.5 L647.3,93.3 L647.8,93.2 L648.3,93.1 L648.8,93.0 L649.3,93.0 L649.8,93.0 L650.3,93.0 L650.8,93.1 L651.3,93.1 L651.8,93.2 L652.3,93.2 L652.8,93.3 L653.3,93.4 L653.8,93.5 L654.3,93.7 L654.8,93.8 L655.3,94.1 L655.8,94.4 L656.3,94.7 L656.8,95.0 L657.3,95.4 L657.8,95.7 L658.3,96.0 L658.8,96.4 L659.3,96.7 L659.8,97.0 L660.3,97.4 L660.8,97.7 L661.3,98.1 L661.8,98.4 L662.3,98.7 L662.8,98.9 L663.3,99.1 L663.8,99.3 L664.3,99.4 L664.8,99.5 L665.3,99.6 L665.8,99.7 L666.3,99.7 L666.8,99.8 L667.3,99.9 L667.8,100.0 L668.3,100.0 L668.8,100.1 L669.3,100.2 L669.8,100.2 L670.3,100.3 L670.8,100.4 L671.3,100.4 L671.8,100.5 L672.3,100.6 L672.8,100.6 L673.3,100.7 L673.8,100.8 L674.3,100.9 L674.8,101.0 L675.3,101.1 L675.8,101.2 L676.3,101.3 L676.8,101.5 L677.3,101.6 L677.8,101.8 L678.3,102.0 L678.8,102.1 L679.3,102.3 L679.8,102.6 L680.3,102.8 L680.8,103.1 L681.3,103.4 L681.8,103.7 L682.3,104.0 L682.8,104.4 L683.3,104.7 L683.8,105.1 L684.3,105.4 L684.8,105.8 L685.3,106.2 L685.8,106.6 L686.3,107.0 L686.8,107.4 L687.3,107.9 L687.8,108.3 L688.3,108.6 L688.8,109.0 L689.3,109.3 L689.8,109.7 L690.3,110.0 L690.8,110.3 L691.3,110.6 L691.8,110.9 L692.3,111.2 L692.8,111.5 L693.3,111.7 L693.8,111.9 L694.3,112.2 L694.8,112.4 L695.3,112.7 L695.8,112.9 L696.3,113.2 L696.8,113.3 L697.3,113.5 L697.8,113.6 L698.3,113.7 L698.8,113.7 L699.3,113.7 L699.8,113.6 L700.3,113.6 L700.8,113.5 L701.3,113.4 L701.8,113.4 L702.3,113.3 L702.8,113.3 L703.3,113.2 L703.8,113.2 L704.3,113.1 L704.8,113.1 L705.3,113.0 L705.8,113.0 L706.3,113.0 L706.8,112.9 L707.3,112.9 L707.8,112.9 L708.3,112.9 L708.8,112.9 L709.3,112.9 L709.8,112.9 L710.3,112.9 L710.8,112.9 L711.3,112.9 L711.8,112.9 L712.3,112.9 L712.8,112.9 L713.3,112.9 L713.8,112.9 L714.3,113.0 L714.8,113.0 L715.3,113.1 L715.8,113.2 L716.3,113.2 L716.8,113.3 L717.3,113.4 L717.8,113.4 L718.3,113.5 L718.8,113.5 L719.3,113.6 L719.8,113.6 L720.3,113.7 L720.8,113.7 L721.3,113.8 L721.8,113.9 L722.3,113.9 L722.8,114.0 L723.3,114.0 L723.8,114.1 L724.3,114.2 L724.8,114.2 L725.3,114.3" fill="none" stroke="#1a1a1a" stroke-width="1.6" stroke-linejoin="round" />
<path d="M348.0,156.3 L349.0,156.5 L350.0,156.5 L351.0,156.6 L352.0,156.8 L353.0,156.9 L354.0,156.9 L355.0,156.9 L356.0,157.1 L357.0,157.0 L358.0,156.9 L359.0,156.7 L360.0,156.9 L361.0,156.7 L362.0,156.8 L363.0,156.8 L364.0,156.9 L365.0,156.6 L366.0,156.5 L367.0,156.4 L368.0,156.5 L369.0,156.5 L370.0,156.8 L371.0,157.0 L372.0,157.0 L373.0,156.7 L374.0,156.6 L375.0,156.5 L376.0,156.4 L377.0,156.5 L378.0,156.7 L379.0,156.7 L380.0,156.5 L381.0,156.5 L382.0,156.5 L383.0,156.4 L384.0,156.3 L385.0,156.3 L386.0,156.3 L387.0,156.3 L388.0,156.4 L389.0,156.3 L390.0,156.4 L391.0,156.4 L392.0,156.3 L393.0,156.2 L394.0,156.2 L395.0,156.1 L396.0,156.2 L397.0,156.3 L398.0,156.5 L399.0,156.6 L400.0,156.5 L401.0,156.6 L402.0,156.6 L403.0,156.7 L404.0,156.6 L405.0,156.7 L406.0,156.6 L407.0,156.4 L408.0,156.3 L409.0,156.2 L410.0,156.1 L411.0,156.2 L412.0,156.3 L413.0,156.4 L414.0,156.5 L415.0,156.7 L416.0,156.7 L417.0,156.6 L418.0,156.4 L419.0,156.6 L420.0,156.7 L421.0,156.8 L422.0,156.8 L423.0,156.9 L424.0,156.7 L425.0,156.7 L426.0,156.4 L427.0,156.4 L428.0,156.5 L429.0,156.6 L430.0,156.7 L431.0,156.8 L432.0,156.7 L433.0,156.8 L434.0,156.7 L435.0,156.7 L436.0,156.7 L437.0,156.7 L438.0,156.8 L439.0,156.8 L440.0,156.8 L441.0,156.8 L442.0,156.9 L443.0,156.8 L444.0,156.7 L445.0,156.6 L446.0,156.5 L447.0,156.4 L448.0,156.4 L449.0,156.4 L450.0,156.3 L451.0,156.5 L452.0,156.8 L453.0,156.8 L454.0,156.6 L455.0,156.8 L456.0,156.8 L457.0,156.6 L458.0,156.4 L459.0,156.5 L460.0,156.3 L461.0,156.2 L462.0,156.4 L463.0,156.6 L464.0,156.7 L465.0,156.9 L466.0,156.9 L467.0,156.8 L468.0,156.7 L469.0,156.4 L470.0,156.4" fill="none" stroke="#3f8a24" stroke-width="1.6" stroke-linejoin="round" />
<path d="M477.5,155.7 L478.0,155.7 L478.5,155.6 L479.0,155.5 L479.5,155.6 L480.0,155.6 L480.5,155.6 L481.0,155.7 L481.5,155.8 L482.0,155.6 L482.5,155.6 L483.0,155.7 L483.5,155.8 L484.0,155.7 L484.5,155.8 L485.0,155.7 L485.5,155.7 L486.0,155.7 L486.5,155.6 L487.0,155.8 L487.5,155.9 L488.0,155.9 L488.5,155.8 L489.0,155.8 L489.5,155.6 L490.0,155.6 L490.5,155.3 L491.0,155.4 L491.5,155.3 L492.0,155.4 L492.5,155.5 L493.0,155.6 L493.5,155.6 L494.0,155.7 L494.5,155.6 L495.0,155.5 L495.5,155.6 L496.0,155.7 L496.5,155.8 L497.0,155.8 L497.5,155.7 L498.0,155.6 L498.5,155.5 L499.0,155.4 L499.5,155.3 L500.0,155.5 L500.5,155.5 L501.0,155.7 L501.5,155.6 L502.0,155.7 L502.5,155.6 L503.0,155.6 L503.5,155.4 L504.0,155.5 L504.5,155.5 L505.0,155.5 L505.5,155.4 L506.0,155.5 L506.5,155.5 L507.0,155.5 L507.5,155.5 L508.0,155.5 L508.5,155.4 L509.0,155.4 L509.5,155.3 L510.0,155.3 L510.5,155.2 L511.0,155.3 L511.5,155.2 L512.0,155.1 L512.5,155.1 L513.0,155.2 L513.5,155.1 L514.0,155.2 L514.5,155.2 L515.0,155.1 L515.5,155.1 L516.0,155.2 L516.5,155.1 L517.0,155.2 L517.5,155.2 L518.0,155.0 L518.5,154.8 L519.0,154.8 L519.5,154.6 L520.0,154.6 L520.5,154.5 L521.0,154.2 L521.5,154.0 L522.0,153.8 L522.5,153.6 L523.0,153.5 L523.5,153.5 L524.0,153.3 L524.5,153.0 L525.0,152.7 L525.5,152.3 L526.0,151.9 L526.5,151.2 L527.0,150.5 L527.5,149.5 L528.0,148.4 L528.5,146.8 L529.0,144.9 L529.5,142.8 L530.0,140.1 L530.5,136.8 L531.0,133.2 L531.5,129.0 L532.0,124.5 L532.5,119.5 L533.0,113.9 L533.5,108.3 L534.0,102.1 L534.5,95.8 L535.0,90.0 L535.5,84.8 L536.0,80.6 L536.5,78.4 L537.0,78.2 L537.5,80.1 L538.0,83.9 L538.5,89.0 L539.0,94.7 L539.5,101.0 L540.0,107.1 L540.5,113.0 L541.0,118.5 L541.5,123.5 L542.0,128.2 L542.5,132.4 L543.0,136.1 L543.5,139.5 L544.0,142.3 L544.5,144.5 L545.0,146.4 L545.5,147.9 L546.0,149.2 L546.5,150.3 L547.0,151.2 L547.5,151.9 L548.0,152.5 L548.5,152.9 L549.0,153.3 L549.5,153.5 L550.0,153.7 L550.5,153.9 L551.0,154.0 L551.5,154.0 L552.0,154.0 L552.5,154.1 L553.0,154.0 L553.5,154.1 L554.0,154.2 L554.5,154.3 L555.0,154.3 L555.5,154.5 L556.0,154.6 L556.5,154.6 L557.0,154.8 L557.5,154.8 L558.0,154.9 L558.5,154.7 L559.0,154.9 L559.5,154.9 L560.0,154.8 L560.5,154.8 L561.0,155.0 L561.5,155.1 L562.0,155.1 L562.5,155.2 L563.0,155.4 L563.5,155.5 L564.0,155.3 L564.5,155.4 L565.0,155.5 L565.5,155.6 L566.0,155.5 L566.5,155.7 L567.0,155.7 L567.5,155.7 L568.0,155.5 L568.5,155.5 L569.0,155.6 L569.5,155.5 L570.0,155.5 L570.5,155.5 L571.0,155.5 L571.5,155.4 L572.0,155.5 L572.5,155.5 L573.0,155.5 L573.5,155.5 L574.0,155.5 L574.5,155.5 L575.0,155.6 L575.5,155.6 L576.0,155.7 L576.5,155.7 L577.0,155.6 L577.5,155.6 L578.0,155.6 L578.5,155.6 L579.0,155.6 L579.5,155.8 L580.0,155.9 L580.5,155.8 L581.0,155.7 L581.5,155.7 L582.0,155.6 L582.5,155.4 L583.0,155.4 L583.5,155.5 L584.0,155.7 L584.5,155.7 L585.0,155.7 L585.5,155.9 L586.0,155.9 L586.5,155.8 L587.0,155.8 L587.5,155.8 L588.0,155.7 L588.5,155.7 L589.0,155.6 L589.5,155.5 L590.0,155.5 L590.5,155.5 L591.0,155.6 L591.5,155.7 L592.0,155.8 L592.5,155.8 L593.0,155.8 L593.5,155.6 L594.0,155.5 L594.5,155.4 L595.0,155.3 L595.5,155.2 L596.0,155.3 L596.5,155.4 L597.0,155.5" fill="none" stroke="#3f8a24" stroke-width="1.6" stroke-linejoin="round" />
<path d="M603.5,156.4 L604.0,156.4 L604.5,156.3 L605.0,156.3 L605.5,156.3 L606.0,156.3 L606.5,156.2 L607.0,156.3 L607.5,156.2 L608.0,156.2 L608.5,156.2 L609.0,156.1 L609.5,156.1 L610.0,156.2 L610.5,156.1 L611.0,155.9 L611.5,156.0 L612.0,156.0 L612.5,156.0 L613.0,156.0 L613.5,156.2 L614.0,156.2 L614.5,156.2 L615.0,156.3 L615.5,156.3 L616.0,156.2 L616.5,156.3 L617.0,156.3 L617.5,156.3 L618.0,156.2 L618.5,156.3 L619.0,156.3 L619.5,156.2 L620.0,156.2 L620.5,156.2 L621.0,156.2 L621.5,156.1 L622.0,156.0 L622.5,156.0 L623.0,156.0 L623.5,155.8 L624.0,155.8 L624.5,155.8 L625.0,155.8 L625.5,156.0 L626.0,156.0 L626.5,156.1 L627.0,156.1 L627.5,156.2 L628.0,156.1 L628.5,156.1 L629.0,156.0 L629.5,156.1 L630.0,155.9 L630.5,155.8 L631.0,155.9 L631.5,155.9 L632.0,155.9 L632.5,155.8 L633.0,155.9 L633.5,155.9 L634.0,155.7 L634.5,155.7 L635.0,155.8 L635.5,155.7 L636.0,155.5 L636.5,155.6 L637.0,155.8 L637.5,155.8 L638.0,155.9 L638.5,155.9 L639.0,155.9 L639.5,155.6 L640.0,155.6 L640.5,155.5 L641.0,155.5 L641.5,155.4 L642.0,155.7 L642.5,155.5 L643.0,155.5 L643.5,155.4 L644.0,155.5 L644.5,155.4 L645.0,155.5 L645.5,155.4 L646.0,155.3 L646.5,155.2 L647.0,155.0 L647.5,154.9 L648.0,154.7 L648.5,154.5 L649.0,154.2 L649.5,154.1 L650.0,153.7 L650.5,153.5 L651.0,153.3 L651.5,152.9 L652.0,152.5 L652.5,152.1 L653.0,151.4 L653.5,150.5 L654.0,149.2 L654.5,147.5 L655.0,145.3 L655.5,142.3 L656.0,138.6 L656.5,134.0 L657.0,128.8 L657.5,122.9 L658.0,117.1 L658.5,112.2 L659.0,109.1 L659.5,108.8 L660.0,111.3 L660.5,116.0 L661.0,121.8 L661.5,127.6 L662.0,133.0 L662.5,137.7 L663.0,141.4 L663.5,144.5 L664.0,147.0 L664.5,148.8 L665.0,150.2 L665.5,151.4 L666.0,152.1 L666.5,152.7 L667.0,153.1 L667.5,153.4 L668.0,153.8 L668.5,154.0 L669.0,154.3 L669.5,154.3 L670.0,154.5 L670.5,154.5 L671.0,154.6 L671.5,154.8 L672.0,155.0 L672.5,155.2 L673.0,155.3 L673.5,155.3 L674.0,155.3 L674.5,155.4 L675.0,155.4 L675.5,155.4 L676.0,155.4 L676.5,155.4 L677.0,155.4 L677.5,155.5 L678.0,155.5 L678.5,155.6 L679.0,155.7 L679.5,155.8 L680.0,155.9 L680.5,155.8 L681.0,155.8 L681.5,155.9 L682.0,155.7 L682.5,155.7 L683.0,155.8 L683.5,155.7 L684.0,155.6 L684.5,155.9 L685.0,155.8 L685.5,156.0 L686.0,156.1 L686.5,156.2 L687.0,156.3 L687.5,156.4 L688.0,156.2 L688.5,156.3 L689.0,156.2 L689.5,156.0 L690.0,155.8 L690.5,155.9 L691.0,155.7 L691.5,155.8 L692.0,155.9 L692.5,156.1 L693.0,156.1 L693.5,156.0 L694.0,156.1 L694.5,155.8 L695.0,155.7 L695.5,155.8 L696.0,155.9 L696.5,155.9 L697.0,156.2 L697.5,156.2 L698.0,156.1 L698.5,156.1 L699.0,156.2 L699.5,156.1 L700.0,156.2 L700.5,156.3 L701.0,156.2 L701.5,156.0 L702.0,155.9 L702.5,155.9 L703.0,155.8 L703.5,155.8 L704.0,155.8 L704.5,156.0 L705.0,156.0 L705.5,156.1 L706.0,156.2 L706.5,156.3 L707.0,156.2 L707.5,156.2 L708.0,156.1 L708.5,156.1 L709.0,156.0 L709.5,156.0 L710.0,156.1 L710.5,156.1 L711.0,156.1 L711.5,156.2 L712.0,156.2 L712.5,156.0 L713.0,156.1 L713.5,156.1 L714.0,156.1 L714.5,156.2 L715.0,156.2 L715.5,156.3 L716.0,156.3 L716.5,156.3 L717.0,156.1 L717.5,156.2 L718.0,156.1 L718.5,156.0 L719.0,156.1 L719.5,156.1 L720.0,156.1 L720.5,156.2 L721.0,156.2 L721.5,156.2 L722.0,156.2 L722.5,156.1 L723.0,156.0 L723.5,156.0 L724.0,156.1 L724.5,156.2 L725.0,156.2 L725.5,156.4" fill="none" stroke="#3f8a24" stroke-width="1.6" stroke-linejoin="round" />
<path d="M348.0,200.2 L349.0,200.2 L350.0,200.3 L351.0,200.5 L352.0,200.5 L353.0,200.6 L354.0,200.6 L355.0,200.6 L356.0,200.3 L357.0,200.3 L358.0,200.1 L359.0,200.2 L360.0,200.3 L361.0,200.4 L362.0,200.4 L363.0,200.5 L364.0,200.4 L365.0,200.3 L366.0,200.3 L367.0,200.3 L368.0,200.4 L369.0,200.5 L370.0,200.5 L371.0,200.5 L372.0,200.6 L373.0,200.5 L374.0,200.5 L375.0,200.6 L376.0,200.6 L377.0,200.5 L378.0,200.4 L379.0,200.4 L380.0,200.5 L381.0,200.4 L382.0,200.4 L383.0,200.4 L384.0,200.5 L385.0,200.4 L386.0,200.4 L387.0,200.4 L388.0,200.4 L389.0,200.5 L390.0,200.5 L391.0,200.4 L392.0,200.5 L393.0,200.6 L394.0,200.5 L395.0,200.5 L396.0,200.5 L397.0,200.6 L398.0,200.5 L399.0,200.4 L400.0,200.4 L401.0,200.4 L402.0,200.4 L403.0,200.5 L404.0,200.4 L405.0,200.4 L406.0,200.4 L407.0,200.5 L408.0,200.5 L409.0,200.5 L410.0,200.5 L411.0,200.4 L412.0,200.5 L413.0,200.6 L414.0,200.6 L415.0,200.5 L416.0,200.6 L417.0,200.5 L418.0,200.4 L419.0,200.3 L420.0,200.5 L421.0,200.4 L422.0,200.4 L423.0,200.4 L424.0,200.5 L425.0,200.4 L426.0,200.5 L427.0,200.4 L428.0,200.4 L429.0,200.5 L430.0,200.5 L431.0,200.6 L432.0,200.5 L433.0,200.6 L434.0,200.5 L435.0,200.5 L436.0,200.3 L437.0,200.4 L438.0,200.4 L439.0,200.4 L440.0,200.4 L441.0,200.6 L442.0,200.7 L443.0,200.6 L444.0,200.6 L445.0,200.4 L446.0,200.3 L447.0,200.1 L448.0,200.1 L449.0,200.1 L450.0,200.3 L451.0,200.3 L452.0,200.3 L453.0,200.3 L454.0,200.5 L455.0,200.5 L456.0,200.5 L457.0,200.6 L458.0,200.6 L459.0,200.5 L460.0,200.5 L461.0,200.4 L462.0,200.4 L463.0,200.3 L464.0,200.3 L465.0,200.3 L466.0,200.4 L467.0,200.4 L468.0,200.4 L469.0,200.4 L470.0,200.5" fill="none" stroke="#cc11ee" stroke-width="1.6" stroke-linejoin="round" />
<path d="M477.5,198.7 L478.0,198.7 L478.5,198.7 L479.0,198.7 L479.5,198.7 L480.0,198.9 L480.5,198.9 L481.0,198.9 L481.5,199.0 L482.0,199.0 L482.5,199.0 L483.0,199.0 L483.5,198.9 L484.0,198.9 L484.5,198.9 L485.0,198.8 L485.5,198.8 L486.0,198.9 L486.5,198.9 L487.0,198.9 L487.5,198.9 L488.0,199.0 L488.5,198.9 L489.0,198.9 L489.5,198.9 L490.0,198.8 L490.5,198.7 L491.0,198.7 L491.5,198.7 L492.0,198.8 L492.5,198.9 L493.0,198.9 L493.5,198.9 L494.0,199.0 L494.5,198.9 L495.0,198.9 L495.5,198.9 L496.0,198.9 L496.5,198.9 L497.0,199.0 L497.5,198.9 L498.0,198.9 L498.5,198.9 L499.0,198.9 L499.5,198.8 L500.0,198.9 L500.5,198.8 L501.0,198.8 L501.5,198.8 L502.0,198.9 L502.5,198.9 L503.0,198.9 L503.5,198.9 L504.0,198.9 L504.5,198.9 L505.0,198.9 L505.5,198.8 L506.0,198.9 L506.5,198.8 L507.0,198.7 L507.5,198.6 L508.0,198.6 L508.5,198.6 L509.0,198.6 L509.5,198.6 L510.0,198.6 L510.5,198.6 L511.0,198.6 L511.5,198.7 L512.0,198.7 L512.5,198.8 L513.0,198.8 L513.5,198.9 L514.0,198.8 L514.5,198.8 L515.0,198.7 L515.5,198.7 L516.0,198.7 L516.5,198.7 L517.0,198.6 L517.5,198.6 L518.0,198.7 L518.5,198.7 L519.0,198.7 L519.5,198.6 L520.0,198.5 L520.5,198.4 L521.0,198.1 L521.5,198.0 L522.0,197.7 L522.5,197.4 L523.0,196.9 L523.5,196.4 L524.0,195.6 L524.5,194.8 L525.0,193.9 L525.5,192.8 L526.0,191.6 L526.5,190.4 L527.0,188.9 L527.5,187.2 L528.0,185.2 L528.5,183.1 L529.0,180.6 L529.5,178.2 L530.0,175.5 L530.5,172.9 L531.0,170.2 L531.5,167.6 L532.0,164.9 L532.5,162.3 L533.0,159.7 L533.5,157.5 L534.0,155.3 L534.5,153.4 L535.0,151.8 L535.5,150.7 L536.0,149.8 L536.5,149.7 L537.0,149.8 L537.5,150.5 L538.0,151.5 L538.5,152.9 L539.0,154.5 L539.5,156.5 L540.0,158.7 L540.5,161.1 L541.0,163.7 L541.5,166.4 L542.0,169.1 L542.5,171.7 L543.0,174.5 L543.5,177.0 L544.0,179.5 L544.5,181.9 L545.0,184.2 L545.5,186.1 L546.0,187.9 L546.5,189.6 L547.0,190.9 L547.5,192.2 L548.0,193.3 L548.5,194.3 L549.0,195.1 L549.5,196.0 L550.0,196.6 L550.5,197.1 L551.0,197.6 L551.5,197.8 L552.0,198.1 L552.5,198.3 L553.0,198.5 L553.5,198.6 L554.0,198.8 L554.5,198.8 L555.0,198.8 L555.5,198.8 L556.0,198.7 L556.5,198.7 L557.0,198.7 L557.5,198.8 L558.0,198.8 L558.5,198.9 L559.0,198.8 L559.5,198.8 L560.0,198.8 L560.5,198.8 L561.0,198.8 L561.5,198.8 L562.0,198.8 L562.5,198.7 L563.0,198.7 L563.5,198.7 L564.0,198.6 L564.5,198.6 L565.0,198.6 L565.5,198.7 L566.0,198.7 L566.5,198.8 L567.0,198.9 L567.5,198.9 L568.0,198.8 L568.5,198.8 L569.0,198.9 L569.5,198.9 L570.0,198.8 L570.5,198.8 L571.0,198.9 L571.5,198.7 L572.0,198.7 L572.5,198.7 L573.0,198.7 L573.5,198.7 L574.0,198.7 L574.5,198.7 L575.0,198.8 L575.5,198.8 L576.0,198.9 L576.5,198.9 L577.0,198.9 L577.5,198.9 L578.0,198.9 L578.5,198.9 L579.0,198.8 L579.5,198.9 L580.0,198.9 L580.5,198.8 L581.0,198.8 L581.5,198.8 L582.0,198.8 L582.5,198.6 L583.0,198.7 L583.5,198.7 L584.0,198.7 L584.5,198.7 L585.0,198.8 L585.5,198.8 L586.0,198.8 L586.5,198.9 L587.0,198.8 L587.5,198.8 L588.0,198.9 L588.5,198.9 L589.0,198.9 L589.5,199.0 L590.0,199.0 L590.5,198.9 L591.0,198.9 L591.5,198.9 L592.0,198.9 L592.5,198.9 L593.0,198.9 L593.5,198.9 L594.0,198.9 L594.5,198.8 L595.0,198.7 L595.5,198.7 L596.0,198.7 L596.5,198.7 L597.0,198.8" fill="none" stroke="#cc11ee" stroke-width="1.6" stroke-linejoin="round" />
<path d="M603.5,199.8 L604.0,199.9 L604.5,200.0 L605.0,200.0 L605.5,200.0 L606.0,200.0 L606.5,200.0 L607.0,199.9 L607.5,200.0 L608.0,200.0 L608.5,200.1 L609.0,200.0 L609.5,200.0 L610.0,199.9 L610.5,199.8 L611.0,199.7 L611.5,199.6 L612.0,199.7 L612.5,199.7 L613.0,199.8 L613.5,199.9 L614.0,200.0 L614.5,200.0 L615.0,200.1 L615.5,200.1 L616.0,200.0 L616.5,200.0 L617.0,200.0 L617.5,200.0 L618.0,199.9 L618.5,200.0 L619.0,200.0 L619.5,200.1 L620.0,200.1 L620.5,200.1 L621.0,200.1 L621.5,200.0 L622.0,200.0 L622.5,199.9 L623.0,200.0 L623.5,199.9 L624.0,199.9 L624.5,200.0 L625.0,200.0 L625.5,199.9 L626.0,199.9 L626.5,200.0 L627.0,200.0 L627.5,199.9 L628.0,200.0 L628.5,200.1 L629.0,200.1 L629.5,200.1 L630.0,200.1 L630.5,200.1 L631.0,200.0 L631.5,200.0 L632.0,200.0 L632.5,199.9 L633.0,200.0 L633.5,200.0 L634.0,200.1 L634.5,200.1 L635.0,200.1 L635.5,200.1 L636.0,200.2 L636.5,200.2 L637.0,200.1 L637.5,200.0 L638.0,199.9 L638.5,199.9 L639.0,199.9 L639.5,199.9 L640.0,200.1 L640.5,200.1 L641.0,200.0 L641.5,200.0 L642.0,200.0 L642.5,200.0 L643.0,199.9 L643.5,199.9 L644.0,199.8 L644.5,199.7 L645.0,199.6 L645.5,199.4 L646.0,199.3 L646.5,199.1 L647.0,198.9 L647.5,198.7 L648.0,198.3 L648.5,197.7 L649.0,197.1 L649.5,196.4 L650.0,195.7 L650.5,194.8 L651.0,193.9 L651.5,192.8 L652.0,191.4 L652.5,190.1 L653.0,188.4 L653.5,186.7 L654.0,185.1 L654.5,183.5 L655.0,181.7 L655.5,180.2 L656.0,178.6 L656.5,177.1 L657.0,175.9 L657.5,174.8 L658.0,174.1 L658.5,173.6 L659.0,173.5 L659.5,173.5 L660.0,173.9 L660.5,174.6 L661.0,175.5 L661.5,176.6 L662.0,178.0 L662.5,179.6 L663.0,181.1 L663.5,182.7 L664.0,184.5 L664.5,186.2 L665.0,187.8 L665.5,189.4 L666.0,190.9 L666.5,192.3 L667.0,193.4 L667.5,194.6 L668.0,195.4 L668.5,196.3 L669.0,197.0 L669.5,197.7 L670.0,198.1 L670.5,198.6 L671.0,198.9 L671.5,199.1 L672.0,199.3 L672.5,199.6 L673.0,199.6 L673.5,199.6 L674.0,199.8 L674.5,199.8 L675.0,199.8 L675.5,199.9 L676.0,200.0 L676.5,200.2 L677.0,200.2 L677.5,200.2 L678.0,200.2 L678.5,200.1 L679.0,200.1 L679.5,200.1 L680.0,200.0 L680.5,200.1 L681.0,200.1 L681.5,200.1 L682.0,200.2 L682.5,200.3 L683.0,200.1 L683.5,200.1 L684.0,200.0 L684.5,199.9 L685.0,199.8 L685.5,199.9 L686.0,199.9 L686.5,199.9 L687.0,199.9 L687.5,200.0 L688.0,200.0 L688.5,200.0 L689.0,199.9 L689.5,199.9 L690.0,199.9 L690.5,199.9 L691.0,199.9 L691.5,200.0 L692.0,199.9 L692.5,199.9 L693.0,199.8 L693.5,199.8 L694.0,199.9 L694.5,200.0 L695.0,200.0 L695.5,200.1 L696.0,200.1 L696.5,200.1 L697.0,200.0 L697.5,200.0 L698.0,200.0 L698.5,200.0 L699.0,200.0 L699.5,200.1 L700.0,200.1 L700.5,200.2 L701.0,200.3 L701.5,200.2 L702.0,200.2 L702.5,200.1 L703.0,199.9 L703.5,199.8 L704.0,199.8 L704.5,199.8 L705.0,199.9 L705.5,200.1 L706.0,200.2 L706.5,200.1 L707.0,200.1 L707.5,200.1 L708.0,200.1 L708.5,200.0 L709.0,199.9 L709.5,199.8 L710.0,199.8 L710.5,199.9 L711.0,199.9 L711.5,200.0 L712.0,199.9 L712.5,200.0 L713.0,199.9 L713.5,199.8 L714.0,199.9 L714.5,200.0 L715.0,199.9 L715.5,200.0 L716.0,199.9 L716.5,200.0 L717.0,199.9 L717.5,200.0 L718.0,199.9 L718.5,200.1 L719.0,200.0 L719.5,200.0 L720.0,199.9 L720.5,199.9 L721.0,199.9 L721.5,199.9 L722.0,199.9 L722.5,199.9 L723.0,199.9 L723.5,199.9 L724.0,199.9 L724.5,199.9 L725.0,199.9 L725.5,200.0" fill="none" stroke="#cc11ee" stroke-width="1.6" stroke-linejoin="round" />
<path d="M348.0,238.5 L349.0,238.6 L350.0,238.5 L351.0,238.6 L352.0,238.4 L353.0,238.5 L354.0,238.6 L355.0,238.7 L356.0,238.6 L357.0,238.7 L358.0,238.6 L359.0,238.6 L360.0,238.4 L361.0,238.5 L362.0,238.5 L363.0,238.5 L364.0,238.5 L365.0,238.5 L366.0,238.4 L367.0,238.5 L368.0,238.4 L369.0,238.4 L370.0,238.4 L371.0,238.4 L372.0,238.3 L373.0,238.4 L374.0,238.4 L375.0,238.4 L376.0,238.3 L377.0,238.5 L378.0,238.4 L379.0,238.4 L380.0,238.4 L381.0,238.5 L382.0,238.5 L383.0,238.5 L384.0,238.6 L385.0,238.7 L386.0,238.5 L387.0,238.4 L388.0,238.3 L389.0,238.2 L390.0,238.2 L391.0,238.2 L392.0,238.3 L393.0,238.4 L394.0,238.4 L395.0,238.4 L396.0,238.5 L397.0,238.4 L398.0,238.4 L399.0,238.3 L400.0,238.4 L401.0,238.3 L402.0,238.2 L403.0,238.2 L404.0,238.2 L405.0,238.2 L406.0,238.1 L407.0,238.1 L408.0,238.1 L409.0,238.0 L410.0,238.1 L411.0,238.2 L412.0,238.1 L413.0,238.2 L414.0,238.3 L415.0,238.2 L416.0,238.2 L417.0,238.2 L418.0,238.2 L419.0,238.1 L420.0,238.1 L421.0,238.1 L422.0,238.2 L423.0,238.1 L424.0,238.2 L425.0,238.3 L426.0,238.2 L427.0,238.1 L428.0,238.2 L429.0,238.1 L430.0,238.1 L431.0,238.1 L432.0,238.3 L433.0,238.1 L434.0,238.2 L435.0,238.1 L436.0,238.1 L437.0,238.0 L438.0,238.0 L439.0,238.0 L440.0,238.0 L441.0,238.0 L442.0,238.1 L443.0,238.2 L444.0,238.1 L445.0,238.1 L446.0,238.1 L447.0,238.0 L448.0,237.8 L449.0,237.9 L450.0,237.9 L451.0,237.9 L452.0,237.9 L453.0,237.8 L454.0,237.7 L455.0,237.7 L456.0,237.7 L457.0,237.8 L458.0,237.8 L459.0,237.9 L460.0,238.0 L461.0,237.9 L462.0,237.9 L463.0,237.9 L464.0,237.9 L465.0,237.9 L466.0,237.9 L467.0,237.9 L468.0,237.9 L469.0,237.9 L470.0,237.9" fill="none" stroke="#2f10ee" stroke-width="1.6" stroke-linejoin="round" />
<path d="M477.5,237.3 L478.0,237.4 L478.5,237.4 L479.0,237.4 L479.5,237.3 L480.0,237.4 L480.5,237.3 L481.0,237.4 L481.5,237.4 L482.0,237.5 L482.5,237.5 L483.0,237.5 L483.5,237.5 L484.0,237.5 L484.5,237.4 L485.0,237.4 L485.5,237.4 L486.0,237.4 L486.5,237.4 L487.0,237.4 L487.5,237.4 L488.0,237.5 L488.5,237.5 L489.0,237.5 L489.5,237.5 L490.0,237.5 L490.5,237.5 L491.0,237.5 L491.5,237.4 L492.0,237.4 L492.5,237.4 L493.0,237.3 L493.5,237.4 L494.0,237.4 L494.5,237.4 L495.0,237.3 L495.5,237.4 L496.0,237.3 L496.5,237.3 L497.0,237.3 L497.5,237.4 L498.0,237.4 L498.5,237.4 L499.0,237.4 L499.5,237.4 L500.0,237.4 L500.5,237.3 L501.0,237.2 L501.5,237.0 L502.0,236.9 L502.5,236.8 L503.0,236.6 L503.5,236.7 L504.0,236.5 L504.5,236.4 L505.0,236.3 L505.5,236.3 L506.0,236.2 L506.5,236.1 L507.0,236.0 L507.5,235.8 L508.0,235.5 L508.5,235.3 L509.0,235.1 L509.5,234.8 L510.0,234.7 L510.5,234.4 L511.0,234.2 L511.5,234.0 L512.0,233.7 L512.5,233.4 L513.0,233.1 L513.5,232.6 L514.0,232.2 L514.5,231.8 L515.0,231.4 L515.5,230.9 L516.0,230.5 L516.5,230.0 L517.0,229.5 L517.5,229.0 L518.0,228.5 L518.5,228.0 L519.0,227.5 L519.5,226.9 L520.0,226.1 L520.5,225.6 L521.0,225.0 L521.5,224.4 L522.0,223.8 L522.5,223.3 L523.0,222.7 L523.5,222.1 L524.0,221.5 L524.5,220.8 L525.0,220.1 L525.5,219.5 L526.0,218.9 L526.5,218.3 L527.0,217.7 L527.5,217.2 L528.0,216.7 L528.5,216.2 L529.0,215.7 L529.5,215.2 L530.0,214.7 L530.5,214.3 L531.0,213.9 L531.5,213.7 L532.0,213.3 L532.5,213.0 L533.0,212.8 L533.5,212.5 L534.0,212.2 L534.5,212.0 L535.0,212.0 L535.5,211.9 L536.0,211.9 L536.5,211.9 L537.0,212.0 L537.5,212.2 L538.0,212.4 L538.5,212.5 L539.0,212.8 L539.5,213.0 L540.0,213.2 L540.5,213.6 L541.0,213.9 L541.5,214.4 L542.0,214.9 L542.5,215.4 L543.0,215.9 L543.5,216.5 L544.0,217.0 L544.5,217.6 L545.0,218.1 L545.5,218.7 L546.0,219.3 L546.5,219.9 L547.0,220.5 L547.5,221.2 L548.0,221.8 L548.5,222.5 L549.0,223.2 L549.5,223.8 L550.0,224.4 L550.5,225.0 L551.0,225.6 L551.5,226.2 L552.0,226.8 L552.5,227.3 L553.0,227.9 L553.5,228.4 L554.0,229.0 L554.5,229.5 L555.0,230.0 L555.5,230.4 L556.0,230.9 L556.5,231.4 L557.0,231.8 L557.5,232.3 L558.0,232.7 L558.5,233.1 L559.0,233.5 L559.5,233.7 L560.0,233.9 L560.5,234.2 L561.0,234.5 L561.5,234.7 L562.0,235.0 L562.5,235.3 L563.0,235.7 L563.5,235.9 L564.0,236.1 L564.5,236.4 L565.0,236.7 L565.5,236.7 L566.0,236.8 L566.5,236.9 L567.0,237.0 L567.5,236.9 L568.0,237.1 L568.5,237.1 L569.0,237.3 L569.5,237.3 L570.0,237.5 L570.5,237.6 L571.0,237.7 L571.5,237.7 L572.0,237.7 L572.5,237.7 L573.0,237.7 L573.5,237.8 L574.0,237.8 L574.5,237.8 L575.0,238.0 L575.5,237.9 L576.0,237.9 L576.5,237.9 L577.0,237.8 L577.5,237.8 L578.0,237.8 L578.5,237.9 L579.0,237.9 L579.5,238.1 L580.0,238.1 L580.5,238.2 L581.0,238.1 L581.5,238.1 L582.0,238.1 L582.5,238.0 L583.0,238.0 L583.5,238.0 L584.0,238.0 L584.5,238.0 L585.0,238.1 L585.5,238.1 L586.0,238.1 L586.5,238.2 L587.0,238.3 L587.5,238.2 L588.0,238.3 L588.5,238.3 L589.0,238.3 L589.5,238.2 L590.0,238.1 L590.5,238.1 L591.0,238.0 L591.5,238.0 L592.0,238.1 L592.5,238.2 L593.0,238.2 L593.5,238.3 L594.0,238.2 L594.5,238.2 L595.0,238.2 L595.5,238.2 L596.0,238.2 L596.5,238.2 L597.0,238.2" fill="none" stroke="#2f10ee" stroke-width="1.6" stroke-linejoin="round" />
<path d="M603.5,238.0 L604.0,238.0 L604.5,238.0 L605.0,237.9 L605.5,237.9 L606.0,237.8 L606.5,237.8 L607.0,237.8 L607.5,237.8 L608.0,237.8 L608.5,237.8 L609.0,237.8 L609.5,237.7 L610.0,237.7 L610.5,237.7 L611.0,237.7 L611.5,237.7 L612.0,237.8 L612.5,237.7 L613.0,237.6 L613.5,237.6 L614.0,237.5 L614.5,237.5 L615.0,237.6 L615.5,237.7 L616.0,237.7 L616.5,237.8 L617.0,237.7 L617.5,237.7 L618.0,237.7 L618.5,237.7 L619.0,237.8 L619.5,237.8 L620.0,237.8 L620.5,237.9 L621.0,237.8 L621.5,237.8 L622.0,237.8 L622.5,237.8 L623.0,237.8 L623.5,237.7 L624.0,237.6 L624.5,237.6 L625.0,237.6 L625.5,237.6 L626.0,237.5 L626.5,237.5 L627.0,237.5 L627.5,237.5 L628.0,237.4 L628.5,237.4 L629.0,237.3 L629.5,237.2 L630.0,237.1 L630.5,237.0 L631.0,237.0 L631.5,237.0 L632.0,236.9 L632.5,236.9 L633.0,236.8 L633.5,236.6 L634.0,236.5 L634.5,236.4 L635.0,236.3 L635.5,236.2 L636.0,236.0 L636.5,235.9 L637.0,235.7 L637.5,235.6 L638.0,235.5 L638.5,235.4 L639.0,235.3 L639.5,235.2 L640.0,235.1 L640.5,235.0 L641.0,235.0 L641.5,234.7 L642.0,234.6 L642.5,234.4 L643.0,234.2 L643.5,233.9 L644.0,233.9 L644.5,233.7 L645.0,233.6 L645.5,233.5 L646.0,233.4 L646.5,233.2 L647.0,233.0 L647.5,232.7 L648.0,232.6 L648.5,232.4 L649.0,232.3 L649.5,232.2 L650.0,232.0 L650.5,231.8 L651.0,231.7 L651.5,231.6 L652.0,231.4 L652.5,231.4 L653.0,231.3 L653.5,231.3 L654.0,231.1 L654.5,231.1 L655.0,231.0 L655.5,231.0 L656.0,231.0 L656.5,231.0 L657.0,231.0 L657.5,231.0 L658.0,231.0 L658.5,231.1 L659.0,231.0 L659.5,230.9 L660.0,231.0 L660.5,231.1 L661.0,231.2 L661.5,231.3 L662.0,231.4 L662.5,231.4 L663.0,231.5 L663.5,231.5 L664.0,231.5 L664.5,231.7 L665.0,231.9 L665.5,232.1 L666.0,232.2 L666.5,232.4 L667.0,232.5 L667.5,232.6 L668.0,232.7 L668.5,232.9 L669.0,233.1 L669.5,233.3 L670.0,233.4 L670.5,233.7 L671.0,233.9 L671.5,234.0 L672.0,234.2 L672.5,234.3 L673.0,234.5 L673.5,234.7 L674.0,234.8 L674.5,235.0 L675.0,235.2 L675.5,235.4 L676.0,235.4 L676.5,235.7 L677.0,235.7 L677.5,235.8 L678.0,236.0 L678.5,236.3 L679.0,236.3 L679.5,236.5 L680.0,236.6 L680.5,236.8 L681.0,236.8 L681.5,236.9 L682.0,237.0 L682.5,237.1 L683.0,237.1 L683.5,237.2 L684.0,237.3 L684.5,237.5 L685.0,237.5 L685.5,237.6 L686.0,237.6 L686.5,237.6 L687.0,237.5 L687.5,237.7 L688.0,237.6 L688.5,237.7 L689.0,237.8 L689.5,237.9 L690.0,237.8 L690.5,237.9 L691.0,237.8 L691.5,238.0 L692.0,238.0 L692.5,238.1 L693.0,238.2 L693.5,238.3 L694.0,238.2 L694.5,238.2 L695.0,238.2 L695.5,238.2 L696.0,238.0 L696.5,238.1 L697.0,238.2 L697.5,238.1 L698.0,238.3 L698.5,238.4 L699.0,238.3 L699.5,238.3 L700.0,238.3 L700.5,238.2 L701.0,238.3 L701.5,238.3 L702.0,238.2 L702.5,238.2 L703.0,238.1 L703.5,238.1 L704.0,238.1 L704.5,238.2 L705.0,238.3 L705.5,238.3 L706.0,238.4 L706.5,238.5 L707.0,238.4 L707.5,238.3 L708.0,238.3 L708.5,238.2 L709.0,238.3 L709.5,238.3 L710.0,238.3 L710.5,238.3 L711.0,238.3 L711.5,238.2 L712.0,238.2 L712.5,238.2 L713.0,238.2 L713.5,238.2 L714.0,238.2 L714.5,238.3 L715.0,238.3 L715.5,238.2 L716.0,238.3 L716.5,238.3 L717.0,238.2 L717.5,238.3 L718.0,238.3 L718.5,238.3 L719.0,238.3 L719.5,238.4 L720.0,238.4 L720.5,238.4 L721.0,238.4 L721.5,238.4 L722.0,238.3 L722.5,238.3 L723.0,238.4 L723.5,238.5 L724.0,238.4 L724.5,238.5 L725.0,238.5 L725.5,238.4" fill="none" stroke="#2f10ee" stroke-width="1.6" stroke-linejoin="round" />
<path d="M348.0,300.0 L349.0,300.1 L350.0,300.3 L351.0,300.6 L352.0,300.8 L353.0,301.0 L354.0,301.2 L355.0,301.4 L356.0,301.5 L357.0,301.7 L358.0,301.8 L359.0,301.9 L360.0,301.9 L361.0,302.0 L362.0,302.0 L363.0,302.0 L364.0,302.0 L365.0,301.9 L366.0,301.9 L367.0,301.8 L368.0,301.7 L369.0,301.6 L370.0,301.5 L371.0,301.4 L372.0,301.3 L373.0,301.2 L374.0,301.1 L375.0,301.0 L376.0,300.9 L377.0,300.8 L378.0,300.7 L379.0,300.6 L380.0,300.5 L381.0,300.5 L382.0,300.4 L383.0,300.4 L384.0,300.4 L385.0,300.4 L386.0,300.4 L387.0,300.5 L388.0,300.5 L389.0,300.6 L390.0,300.6 L391.0,300.7 L392.0,300.7 L393.0,300.8 L394.0,300.9 L395.0,301.0 L396.0,301.0 L397.0,301.1 L398.0,301.2 L399.0,301.3 L400.0,301.3 L401.0,301.4 L402.0,301.6 L403.0,301.7 L404.0,301.8 L405.0,301.9 L406.0,302.0 L407.0,302.1 L408.0,302.2 L409.0,302.3 L410.0,302.4 L411.0,302.5 L412.0,302.5 L413.0,302.6 L414.0,302.6 L415.0,302.6 L416.0,302.5 L417.0,302.4 L418.0,302.3 L419.0,302.1 L420.0,301.9 L421.0,301.7 L422.0,301.4 L423.0,301.1 L424.0,300.9 L425.0,300.6 L426.0,300.3 L427.0,300.0 L428.0,299.8 L429.0,299.5 L430.0,299.2 L431.0,299.0 L432.0,298.7 L433.0,298.3 L434.0,298.0 L435.0,297.7 L436.0,297.4 L437.0,297.1 L438.0,296.8 L439.0,296.5 L440.0,296.3 L441.0,296.0 L442.0,295.8 L443.0,295.5 L444.0,295.3 L445.0,295.0 L446.0,294.7 L447.0,294.5 L448.0,294.3 L449.0,294.0 L450.0,293.8 L451.0,293.7 L452.0,293.5 L453.0,293.5 L454.0,293.4 L455.0,293.4 L456.0,293.4 L457.0,293.4 L458.0,293.4 L459.0,293.4 L460.0,293.5 L461.0,293.5 L462.0,293.5 L463.0,293.6 L464.0,293.7 L465.0,293.8 L466.0,293.9 L467.0,294.0 L468.0,294.2 L469.0,294.3" fill="none" stroke="#cc2229" stroke-width="1.6" stroke-linejoin="round" />
<path d="M477.5,288.0 L478.0,287.8 L478.5,287.5 L479.0,287.2 L479.5,286.9 L480.0,286.5 L480.5,286.2 L481.0,285.8 L481.5,285.5 L482.0,285.1 L482.5,284.7 L483.0,284.4 L483.5,284.0 L484.0,283.6 L484.5,283.2 L485.0,282.8 L485.5,282.4 L486.0,282.0 L486.5,281.6 L487.0,281.2 L487.5,280.7 L488.0,280.3 L488.5,279.8 L489.0,279.3 L489.5,278.7 L490.0,278.2 L490.5,277.6 L491.0,277.0 L491.5,276.3 L492.0,275.7 L492.5,275.1 L493.0,274.5 L493.5,273.9 L494.0,273.3 L494.5,272.8 L495.0,272.2 L495.5,271.7 L496.0,271.2 L496.5,270.7 L497.0,270.2 L497.5,269.7 L498.0,269.2 L498.5,268.7 L499.0,268.2 L499.5,267.7 L500.0,267.2 L500.5,266.7 L501.0,266.2 L501.5,265.8 L502.0,265.3 L502.5,264.9 L503.0,264.4 L503.5,264.0 L504.0,263.6 L504.5,263.1 L505.0,262.7 L505.5,262.3 L506.0,261.9 L506.5,261.5 L507.0,261.1 L507.5,260.6 L508.0,260.2 L508.5,259.7 L509.0,259.3 L509.5,258.8 L510.0,258.3 L510.5,257.8 L511.0,257.2 L511.5,256.7 L512.0,256.1 L512.5,255.5 L513.0,255.0 L513.5,254.4 L514.0,253.8 L514.5,253.2 L515.0,252.6 L515.5,252.0 L516.0,251.4 L516.5,250.9 L517.0,250.3 L517.5,249.8 L518.0,249.3 L518.5,248.7 L519.0,248.2 L519.5,247.7 L520.0,247.2 L520.5,246.7 L521.0,246.2 L521.5,245.7 L522.0,245.2 L522.5,244.7 L523.0,244.2 L523.5,243.7 L524.0,243.2 L524.5,242.8 L525.0,242.3 L525.5,241.8 L526.0,241.4 L526.5,240.9 L527.0,240.4 L527.5,239.9 L528.0,239.4 L528.5,239.0 L529.0,238.5 L529.5,238.1 L530.0,237.6 L530.5,237.2 L531.0,236.8 L531.5,236.4 L532.0,236.1 L532.5,235.7 L533.0,235.4 L533.5,235.1 L534.0,234.8 L534.5,234.5 L535.0,234.3 L535.5,234.0 L536.0,233.8 L536.5,233.6 L537.0,233.4 L537.5,233.2 L538.0,233.1 L538.5,232.9 L539.0,232.8 L539.5,232.7 L540.0,232.6 L540.5,232.5 L541.0,232.4 L541.5,232.4 L542.0,232.4 L542.5,232.5 L543.0,232.6 L543.5,232.7 L544.0,232.9 L544.5,233.0 L545.0,233.2 L545.5,233.4 L546.0,233.7 L546.5,234.0 L547.0,234.4 L547.5,234.8 L548.0,235.2 L548.5,235.6 L549.0,236.0 L549.5,236.5 L550.0,236.9 L550.5,237.4 L551.0,237.9 L551.5,238.4 L552.0,239.0 L552.5,239.5 L553.0,240.0 L553.5,240.6 L554.0,241.1 L554.5,241.6 L555.0,242.2 L555.5,242.7 L556.0,243.3 L556.5,243.8 L557.0,244.4 L557.5,245.0 L558.0,245.5 L558.5,246.1 L559.0,246.7 L559.5,247.3 L560.0,247.8 L560.5,248.4 L561.0,249.0 L561.5,249.5 L562.0,250.1 L562.5,250.7 L563.0,251.3 L563.5,251.8 L564.0,252.4 L564.5,253.0 L565.0,253.6 L565.5,254.1 L566.0,254.7 L566.5,255.3 L567.0,255.8 L567.5,256.4 L568.0,257.0 L568.5,257.5 L569.0,258.1 L569.5,258.6 L570.0,259.1 L570.5,259.6 L571.0,260.1 L571.5,260.6 L572.0,261.1 L572.5,261.6 L573.0,262.1 L573.5,262.6 L574.0,263.1 L574.5,263.6 L575.0,264.1 L575.5,264.5 L576.0,265.0 L576.5,265.5 L577.0,266.0 L577.5,266.5 L578.0,267.0 L578.5,267.5 L579.0,268.0 L579.5,268.5 L580.0,269.1 L580.5,269.6 L581.0,270.1 L581.5,270.6 L582.0,271.1 L582.5,271.6 L583.0,272.1 L583.5,272.6 L584.0,273.1 L584.5,273.5 L585.0,274.0 L585.5,274.5 L586.0,274.9 L586.5,275.4 L587.0,275.8 L587.5,276.2 L588.0,276.7 L588.5,277.1 L589.0,277.5 L589.5,277.9 L590.0,278.3 L590.5,278.6 L591.0,278.9 L591.5,279.2 L592.0,279.5 L592.5,279.8 L593.0,280.1 L593.5,280.4 L594.0,280.6 L594.5,280.9 L595.0,281.1 L595.5,281.3 L596.0,281.5 L596.5,281.6" fill="none" stroke="#cc2229" stroke-width="1.6" stroke-linejoin="round" />
<path d="M603.7,290.5 L604.2,290.5 L604.7,290.5 L605.2,290.5 L605.7,290.4 L606.2,290.4 L606.7,290.3 L607.2,290.3 L607.7,290.2 L608.2,290.1 L608.7,290.0 L609.2,289.9 L609.7,289.9 L610.2,289.8 L610.7,289.7 L611.2,289.5 L611.7,289.4 L612.2,289.2 L612.7,289.0 L613.2,288.6 L613.7,288.3 L614.2,287.9 L614.7,287.5 L615.2,287.1 L615.7,286.7 L616.2,286.3 L616.7,285.9 L617.2,285.5 L617.7,285.2 L618.2,284.9 L618.7,284.6 L619.2,284.3 L619.7,284.0 L620.2,283.7 L620.7,283.4 L621.2,283.2 L621.7,282.9 L622.2,282.6 L622.7,282.3 L623.2,282.1 L623.7,281.8 L624.2,281.6 L624.7,281.4 L625.2,281.2 L625.7,281.0 L626.2,280.9 L626.7,280.8 L627.2,280.7 L627.7,280.7 L628.2,280.7 L628.7,280.7 L629.2,280.8 L629.7,280.8 L630.2,280.9 L630.7,281.0 L631.2,281.1 L631.7,281.2 L632.2,281.3 L632.7,281.4 L633.2,281.6 L633.7,281.7 L634.2,281.8 L634.7,282.0 L635.2,282.1 L635.7,282.2 L636.2,282.4 L636.7,282.6 L637.2,282.8 L637.7,283.0 L638.2,283.3 L638.7,283.5 L639.2,283.8 L639.7,284.1 L640.2,284.3 L640.7,284.6 L641.2,284.8 L641.7,285.1 L642.2,285.3 L642.7,285.4 L643.2,285.5 L643.7,285.6 L644.2,285.7 L644.7,285.7 L645.2,285.6 L645.7,285.6 L646.2,285.5 L646.7,285.4 L647.2,285.2 L647.7,285.1 L648.2,284.9 L648.7,284.8 L649.2,284.6 L649.7,284.4 L650.2,284.3 L650.7,284.1 L651.2,283.9 L651.7,283.8 L652.2,283.6 L652.7,283.3 L653.2,283.1 L653.7,282.9 L654.2,282.6 L654.7,282.3 L655.2,282.1 L655.7,281.9 L656.2,281.6 L656.7,281.4 L657.2,281.2 L657.7,281.0 L658.2,280.9 L658.7,280.8 L659.2,280.7 L659.7,280.7 L660.2,280.8 L660.7,280.8 L661.2,281.0 L661.7,281.2 L662.2,281.4 L662.7,281.7 L663.2,282.0 L663.7,282.3 L664.2,282.6 L664.7,283.0 L665.2,283.3 L665.7,283.6 L666.2,283.9 L666.7,284.2 L667.2,284.5 L667.7,284.7 L668.2,284.9 L668.7,285.0 L669.2,285.2 L669.7,285.3 L670.2,285.4 L670.7,285.5 L671.2,285.6 L671.7,285.7 L672.2,285.7 L672.7,285.8 L673.2,285.9 L673.7,286.0 L674.2,286.0 L674.7,286.1 L675.2,286.2 L675.7,286.3 L676.2,286.4 L676.7,286.5 L677.2,286.6 L677.7,286.7 L678.2,286.8 L678.7,286.9 L679.2,287.0 L679.7,287.2 L680.2,287.3 L680.7,287.4 L681.2,287.6 L681.7,287.7 L682.2,287.9 L682.7,288.0 L683.2,288.2 L683.7,288.3 L684.2,288.5 L684.7,288.7 L685.2,288.9 L685.7,289.2 L686.2,289.4 L686.7,289.7 L687.2,290.0 L687.7,290.2 L688.2,290.5 L688.7,290.8 L689.2,291.1 L689.7,291.3 L690.2,291.5 L690.7,291.7 L691.2,291.9 L691.7,292.1 L692.2,292.2 L692.7,292.3 L693.2,292.4 L693.7,292.4 L694.2,292.5 L694.7,292.5 L695.2,292.5 L695.7,292.6 L696.2,292.6 L696.7,292.6 L697.2,292.7 L697.7,292.7 L698.2,292.7 L698.7,292.7 L699.2,292.8 L699.7,292.8 L700.2,292.8 L700.7,292.8 L701.2,292.8 L701.7,292.9 L702.2,292.9 L702.7,292.9 L703.2,293.0 L703.7,293.0 L704.2,293.0 L704.7,293.1 L705.2,293.1 L705.7,293.2 L706.2,293.2 L706.7,293.3 L707.2,293.5 L707.7,293.6 L708.2,293.8 L708.7,293.9 L709.2,294.1 L709.7,294.3 L710.2,294.6 L710.7,294.8 L711.2,295.0 L711.7,295.3 L712.2,295.5 L712.7,295.8 L713.2,296.0 L713.7,296.3 L714.2,296.5 L714.7,296.8 L715.2,297.0 L715.7,297.2 L716.2,297.4 L716.7,297.5 L717.2,297.7 L717.7,297.8 L718.2,298.0 L718.7,298.1 L719.2,298.3 L719.7,298.4 L720.2,298.5 L720.7,298.7 L721.2,298.8 L721.7,298.9 L722.2,299.1 L722.7,299.2 L723.2,299.3 L723.7,299.4 L724.2,299.5 L724.7,299.6 L725.2,299.7" fill="none" stroke="#cc2229" stroke-width="1.6" stroke-linejoin="round" />
<!-- markers -->
<line x1="205.4" y1="15" x2="205.4" y2="273" stroke="#333" stroke-width="1"/>
<line x1="541.3" y1="12.6" x2="541.3" y2="25.6" stroke="#1a1a1a" stroke-width="1.5"/>
<line x1="536.8" y1="66.4" x2="536.8" y2="84" stroke="#3f8a24" stroke-width="1.5"/>
<line x1="536.8" y1="140.4" x2="536.8" y2="156" stroke="#cc11ee" stroke-width="1.5"/>
<line x1="535.9" y1="202.3" x2="535.9" y2="219.5" stroke="#2f10ee" stroke-width="1.5"/>
<line x1="541" y1="224.3" x2="541" y2="241" stroke="#cc2229" stroke-width="1.5"/>
<line x1="650" y1="72.6" x2="650" y2="95.9" stroke="#1a1a1a" stroke-width="1.5"/>
<line x1="659.2" y1="101" x2="659.2" y2="112" stroke="#3f8a24" stroke-width="1.5"/>
<line x1="659.1" y1="163.2" x2="659.1" y2="177.5" stroke="#cc11ee" stroke-width="1.5"/>
<line x1="657.7" y1="217.3" x2="657.7" y2="233.8" stroke="#2f10ee" stroke-width="1.5"/>
<line x1="661.3" y1="269.7" x2="661.3" y2="287.3" stroke="#cc2229" stroke-width="1.5"/>
<!-- frames -->
<g fill="none" stroke="#000" stroke-width="2.3" stroke-linecap="butt">
<line x1="33.7" y1="6.8" x2="33.7" y2="318"/>
<line x1="300.3" y1="6.8" x2="300.3" y2="318"/>
<line x1="32.6" y1="7.8" x2="163.8" y2="7.8"/>
<line x1="168.6" y1="7.8" x2="301.4" y2="7.8"/>
<line x1="32.6" y1="316.8" x2="164.4" y2="316.8"/>
<line x1="168.8" y1="316.8" x2="301.4" y2="316.8"/>
<line x1="347.5" y1="6.8" x2="347.5" y2="314.4"/>
<line x1="726.6" y1="6.8" x2="726.6" y2="314.4"/>
<line x1="346.4" y1="8.2" x2="470.8" y2="8.2"/>
<line x1="477" y1="8.2" x2="597" y2="8.2"/>
<line x1="603.3" y1="8.2" x2="727.7" y2="8.2"/>
<line x1="346.4" y1="313.3" x2="470.6" y2="313.3"/>
<line x1="476.8" y1="313.3" x2="596.9" y2="313.3"/>
<line x1="603.6" y1="313.3" x2="727.7" y2="313.3"/>
</g>
<!-- scale bars -->
<line x1="48.2" y1="23.2" x2="48.2" y2="57.8" stroke="#222" stroke-width="1.6"/>
<line x1="368.8" y1="21.2" x2="368.8" y2="66.3" stroke="#222" stroke-width="1.6"/>
<!-- ticks A -->
<g stroke="#000" stroke-width="2.2">
<line x1="60" y1="316.8" x2="60" y2="322.6"/>
<line x1="112.2" y1="316.8" x2="112.2" y2="322.6"/>
<line x1="184" y1="316.8" x2="184" y2="322.6"/>
<line x1="213" y1="316.8" x2="213" y2="322.6"/>
<line x1="242" y1="316.8" x2="242" y2="322.6"/>
<line x1="271" y1="316.8" x2="271" y2="322.6"/>
<line x1="300.3" y1="316.8" x2="300.3" y2="322.6"/>
<line x1="409" y1="313.3" x2="409" y2="318.6"/>
<line x1="347.5" y1="313.3" x2="347.5" y2="318.6"/>
<line x1="726.8" y1="313.3" x2="726.8" y2="318.6"/>
<line x1="517" y1="313.3" x2="517" y2="318.6"/>
<line x1="556.8" y1="313.3" x2="556.8" y2="318.6"/>
<line x1="634.3" y1="313.3" x2="634.3" y2="318.6"/>
<line x1="664.8" y1="313.3" x2="664.8" y2="318.6"/>
<line x1="695.3" y1="313.3" x2="695.3" y2="318.6"/>
</g>
<!-- break marks -->
<g stroke="#000" stroke-width="2.2" stroke-linecap="butt">
<line x1="161.6" y1="320.3" x2="167.8" y2="312.8"/>
<line x1="166.1" y1="320.3" x2="172.2" y2="313"/>
<line x1="160.9" y1="11.2" x2="167.4" y2="4.1"/>
<line x1="165.4" y1="11.2" x2="172.6" y2="4.1"/>
<line x1="467.5" y1="316.9" x2="474.1" y2="309.6"/>
<line x1="474.0" y1="316.7" x2="480.2" y2="309.6"/>
<line x1="593.8" y1="317.2" x2="600" y2="309.3"/>
<line x1="600.4" y1="316.5" x2="606.9" y2="309.3"/>
<line x1="467.6" y1="12" x2="474.1" y2="4.5"/>
<line x1="473.8" y1="11.3" x2="480.3" y2="4.5"/>
<line x1="593.5" y1="12.4" x2="600.4" y2="4.5"/>
<line x1="599.7" y1="12" x2="606.9" y2="4.8"/>
</g>
<!-- text -->
<g font-weight="bold" fill="#000">
<text x="2" y="13" font-size="16.5">A</text>
<text x="317" y="13" font-size="16.5">B</text>
</g>
<!-- axis tick labels -->
<g font-weight="bold" font-size="14" fill="#111" text-anchor="middle">
<text x="60" y="337">36</text>
<text x="112.2" y="337">38</text>
<text x="184" y="337">46</text>
<text x="213" y="337">48</text>
<text x="242" y="337">50</text>
<text x="271" y="337">52</text>
<text x="300.2" y="337">54</text>
<text x="347.3" y="334">35</text>
<text x="409" y="334">36</text>
<text x="517" y="334">47</text>
<text x="556.8" y="334">48</text>
<text x="634.3" y="334">51</text>
<text x="664.8" y="334">52</text>
<text x="695.3" y="334">53</text>
<text x="726.2" y="334">54</text>
</g>
<g font-weight="bold" font-size="19.2" fill="#000">
<text x="121.2" y="358" font-size="18.9">2θ(degree)</text>
<text x="512.8" y="358" font-size="18.9">2θ(degree)</text>
<text transform="translate(15.3,210) rotate(-90)">Intensity(a.u.)</text>
<text transform="translate(333,206.8) rotate(-90)">Intensity(a.u.)</text>
</g>
<!-- scale labels -->
<g stroke-width="0.35" font-size="14.6" fill="#222" stroke="#222">
<text x="54" y="44.5">1000</text>
<text x="376" y="47.1">1000</text>
</g>
<!-- Panel A labels -->
<g font-weight="bold" font-size="14.4" fill="#111">
<text x="165" y="24.8">47.46</text>
<text x="124" y="43">CeO<tspan font-size="9.4" dy="4.5">2</tspan><tspan dy="-4.5"> (220)</tspan></text>
<text x="218" y="25.4">3%Co/CeO<tspan font-size="9.4" dy="4.5">2</tspan></text>
<text x="261" y="89.3">CeO<tspan font-size="9.4" dy="4.5">2</tspan></text>
</g>
<text x="69.3" y="158.8" font-weight="bold" font-size="14.7" fill="#cc2229">Co<tspan font-size="9.4" dy="4.6">3</tspan><tspan dy="-4.6">O</tspan><tspan font-size="9.4" dy="4.6">4</tspan><tspan dy="-4.6">(311)</tspan></text>
<g stroke-width="0.35" font-size="14.6" text-anchor="end">
<text x="294" y="183" fill="#3f8a24" stroke="#3f8a24">1000</text>
<text x="295.5" y="248.5" fill="#cc11ee" stroke="#cc11ee">900</text>
<text x="296" y="284.3" fill="#2f10ee" stroke="#2f10ee">700</text>
<text x="296" y="304.6" fill="#cc2229" stroke="#cc2229">500</text>
</g>
<!-- Panel B labels -->
<g font-weight="bold" font-size="14.2" fill="#111">
<text x="453" y="27">CeO<tspan font-size="9.4" dy="4.5">2</tspan><tspan dy="-4.5"> (220)</tspan></text>
<text x="603" y="27.4" font-size="13.9">3%Co/Ce<tspan font-size="9.6" dy="4.2">0.5</tspan><tspan dy="-4.2">Sn</tspan><tspan font-size="9.6" dy="4.2">0.5</tspan><tspan dy="-4.2">O</tspan><tspan font-size="9.6" dy="4.2">2</tspan></text>
<text x="616.5" y="63">SnO<tspan font-size="9.4" dy="4.5">2</tspan><tspan dy="-4.5"> (211)</tspan></text>
<text x="682" y="102">Ce-Sn</text>
</g>
<text x="424.8" y="132.6" font-weight="bold" font-size="14.3" fill="#cc2229">Co<tspan font-size="9.4" dy="4.6">3</tspan><tspan dy="-4.6">O</tspan><tspan font-size="9.4" dy="4.6">4</tspan><tspan dy="-4.6">(311)</tspan></text>
<g font-weight="bold" font-size="11" stroke-width="0.3">
<text x="353.5" y="112.5" fill="#111" stroke="#111">x1.25</text>
<text x="350.5" y="152.7" fill="#3f8a24" stroke="#3f8a24">x1/3</text>
<text x="350.5" y="196" fill="#cc11ee" stroke="#cc11ee">x1/3</text>
<text x="350.5" y="235.3" fill="#2f10ee" stroke="#2f10ee">x1/3</text>
<text x="351" y="296.7" fill="#cc2229" stroke="#cc2229">x6</text>
</g>
<g stroke-width="0.35" font-size="14.3">
<text x="553" y="24.8" fill="#111" stroke="#111">47.61</text>
<text x="527.3" y="63.9" fill="#3f8a24" stroke="#3f8a24">47.48</text>
<text x="526" y="172.5" fill="#cc11ee" stroke="#cc11ee" text-anchor="end">47.48</text>
<text x="487.3" y="218.6" fill="#2f10ee" stroke="#2f10ee">47.48</text>
<text x="479" y="252.5" fill="#cc2229" stroke="#cc2229">47.61</text>
<text x="609.6" y="86.3" fill="#111" stroke="#111">51.48</text>
<text x="612.4" y="119.3" fill="#3f8a24" stroke="#3f8a24">51.82</text>
<text x="613.2" y="174.2" fill="#cc11ee" stroke="#cc11ee">51.82</text>
<text x="617" y="222.8" fill="#2f10ee" stroke="#2f10ee">51.68</text>
<text x="618.4" y="271.9" fill="#cc2229" stroke="#cc2229">51.82</text>
</g>
<g stroke-width="0.35" font-size="14.6" text-anchor="end">
<text x="723" y="151.7" fill="#3f8a24" stroke="#3f8a24">1000</text>
<text x="723.6" y="194.5" fill="#cc11ee" stroke="#cc11ee">900</text>
<text x="721.7" y="233.2" fill="#2f10ee" stroke="#2f10ee">700</text>
<text x="721.3" y="288.8" fill="#cc2229" stroke="#cc2229">500</text>
</g>
</svg>
</body></html>
